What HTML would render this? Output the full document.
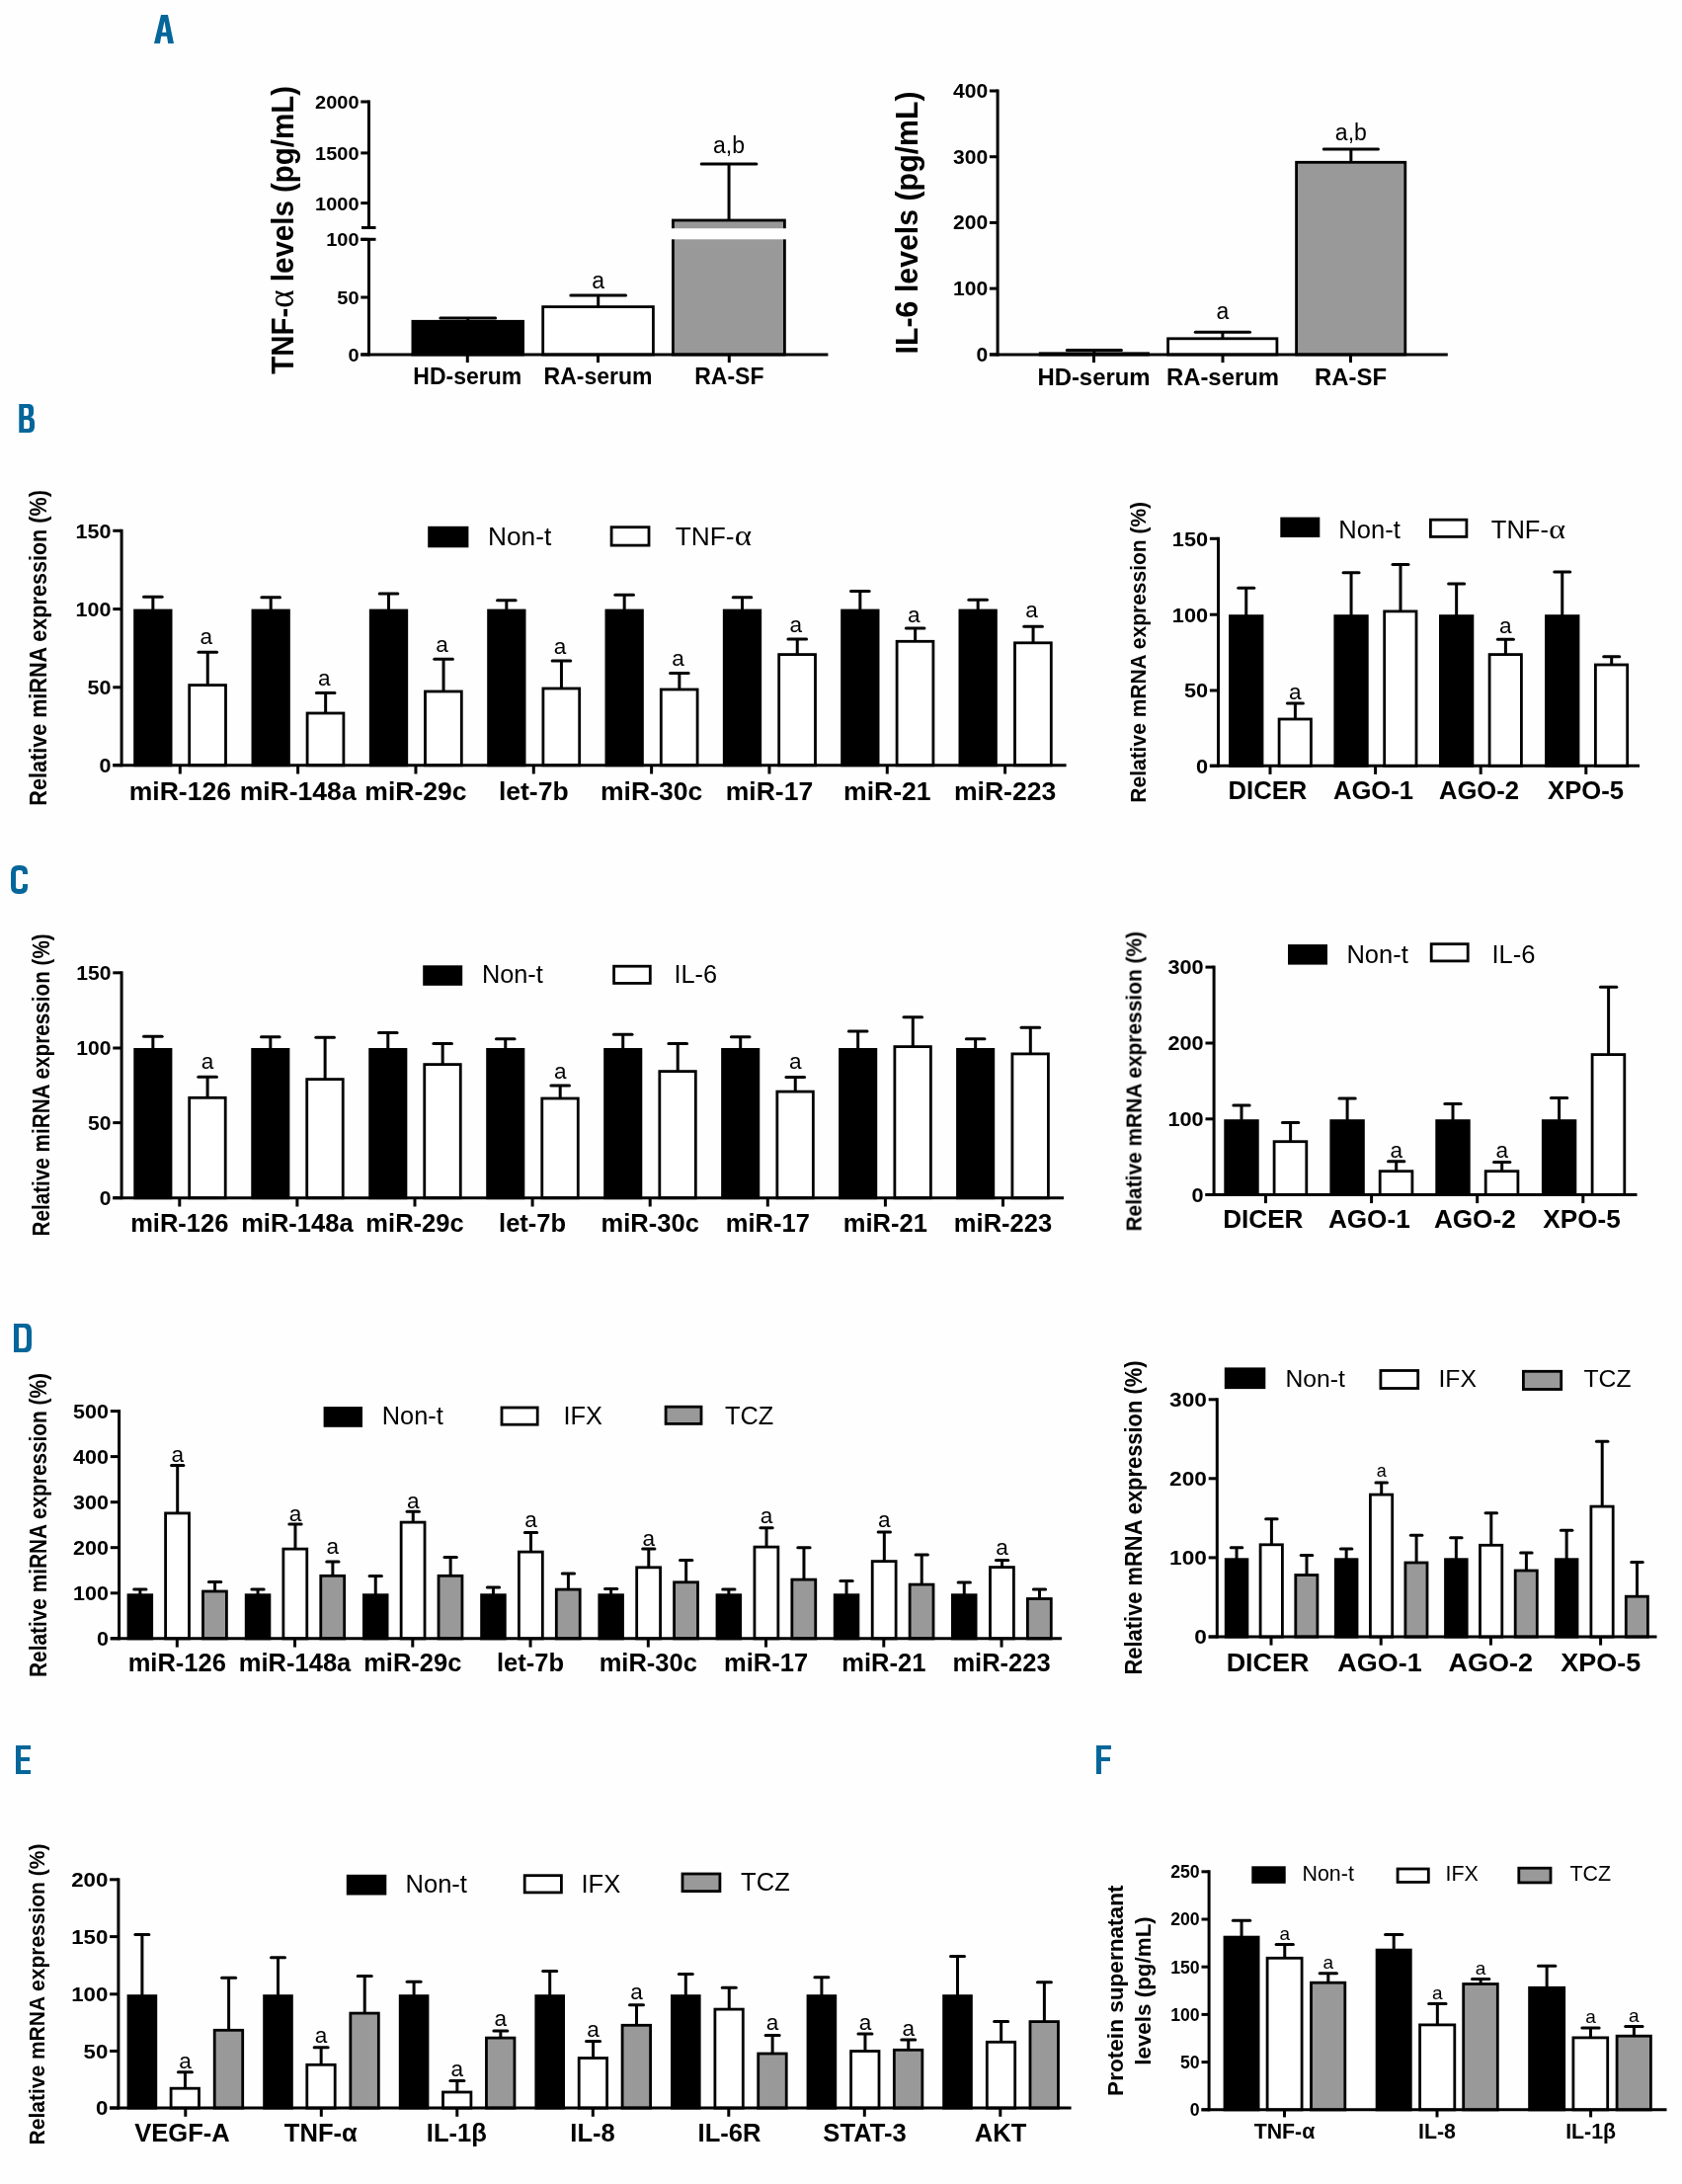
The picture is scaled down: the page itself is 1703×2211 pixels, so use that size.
<!DOCTYPE html>
<html><head><meta charset="utf-8"><title>Figure</title>
<style>
html,body{margin:0;padding:0;background:#fefefe;}
svg{display:block;font-family:"Liberation Sans",sans-serif;}
</style></head>
<body>
<svg width="1703" height="2211" viewBox="0 0 1703 2211">
<defs><filter id="soft" x="0" y="0" width="1703" height="2211" filterUnits="userSpaceOnUse" color-interpolation-filters="sRGB"><feGaussianBlur stdDeviation="0.45"/></filter></defs>
<rect width="1703" height="2211" fill="#fefefe"/>
<g filter="url(#soft)">
<g>
<line x1="473.75" y1="324.9" x2="473.75" y2="322" stroke="#000" stroke-width="3" stroke-linecap="butt"/>
<line x1="445.9" y1="322" x2="501.6" y2="322" stroke="#000" stroke-width="3" stroke-linecap="round"/>
<rect x="416.5" y="323.9" width="114.5" height="36.5" fill="#000"/>
<line x1="605.7" y1="310.2" x2="605.7" y2="299" stroke="#000" stroke-width="3" stroke-linecap="butt"/>
<line x1="577.85" y1="299" x2="633.55" y2="299" stroke="#000" stroke-width="3" stroke-linecap="round"/>
<rect x="549.7" y="310.6" width="111.7" height="48.4" fill="#fff" stroke="#000" stroke-width="2.8"/>
<text x="605.7" y="292" font-size="23" text-anchor="middle">a</text>
<line x1="738.05" y1="222.6" x2="738.05" y2="166" stroke="#000" stroke-width="3" stroke-linecap="butt"/>
<line x1="710.2" y1="166" x2="765.9" y2="166" stroke="#000" stroke-width="3" stroke-linecap="round"/>
<rect x="681.4" y="223" width="113" height="136" fill="#999999" stroke="#000" stroke-width="2.8"/>
<text x="738.05" y="155" font-size="23" text-anchor="middle">a,b</text>
<line x1="373.5" y1="101.5" x2="373.5" y2="230.5" stroke="#000" stroke-width="3" stroke-linecap="butt"/>
<line x1="373.5" y1="242.3" x2="373.5" y2="360.4" stroke="#000" stroke-width="3" stroke-linecap="butt"/>
<line x1="366" y1="230.5" x2="380.5" y2="230.5" stroke="#000" stroke-width="3" stroke-linecap="butt"/>
<line x1="365.3" y1="242.3" x2="380.5" y2="242.3" stroke="#000" stroke-width="3" stroke-linecap="butt"/>
<line x1="365.3" y1="103" x2="373.5" y2="103" stroke="#000" stroke-width="3" stroke-linecap="butt"/>
<text x="0" y="0" font-size="19.2" font-weight="bold" text-anchor="end" transform="translate(363.5,109.91) scale(1.04,1)">2000</text>
<line x1="365.3" y1="154.9" x2="373.5" y2="154.9" stroke="#000" stroke-width="3" stroke-linecap="butt"/>
<text x="0" y="0" font-size="19.2" font-weight="bold" text-anchor="end" transform="translate(363.5,161.81) scale(1.04,1)">1500</text>
<line x1="365.3" y1="205.6" x2="373.5" y2="205.6" stroke="#000" stroke-width="3" stroke-linecap="butt"/>
<text x="0" y="0" font-size="19.2" font-weight="bold" text-anchor="end" transform="translate(363.5,212.51) scale(1.04,1)">1000</text>
<line x1="365.3" y1="242.3" x2="373.5" y2="242.3" stroke="#000" stroke-width="3" stroke-linecap="butt"/>
<text x="0" y="0" font-size="19.2" font-weight="bold" text-anchor="end" transform="translate(363.5,249.21) scale(1.04,1)">100</text>
<line x1="365.3" y1="301" x2="373.5" y2="301" stroke="#000" stroke-width="3" stroke-linecap="butt"/>
<text x="0" y="0" font-size="19.2" font-weight="bold" text-anchor="end" transform="translate(363.5,307.91) scale(1.04,1)">50</text>
<line x1="365.3" y1="358.9" x2="373.5" y2="358.9" stroke="#000" stroke-width="3" stroke-linecap="butt"/>
<text x="0" y="0" font-size="19.2" font-weight="bold" text-anchor="end" transform="translate(363.5,365.81) scale(1.04,1)">0</text>
<line x1="365.3" y1="358.9" x2="838.4" y2="358.9" stroke="#000" stroke-width="3" stroke-linecap="butt"/>
<line x1="473.3" y1="358.9" x2="473.3" y2="367.1" stroke="#000" stroke-width="3" stroke-linecap="butt"/>
<line x1="605.5" y1="358.9" x2="605.5" y2="367.1" stroke="#000" stroke-width="3" stroke-linecap="butt"/>
<line x1="738.3" y1="358.9" x2="738.3" y2="367.1" stroke="#000" stroke-width="3" stroke-linecap="butt"/>
<text x="473.3" y="388.6" font-size="23" font-weight="bold" text-anchor="middle">HD-serum</text>
<text x="605.5" y="388.6" font-size="23" font-weight="bold" text-anchor="middle">RA-serum</text>
<text x="738.3" y="388.6" font-size="23" font-weight="bold" text-anchor="middle">RA-SF</text>
<text font-size="29.5" font-weight="bold" text-anchor="middle" transform="translate(297.4,232.9) rotate(-90) scale(1,1.06)">TNF-<tspan font-family="Liberation Serif" font-weight="normal" font-size="35">α</tspan> levels (pg/mL)</text>
</g>
<g>
<line x1="1107.85" y1="357.4" x2="1107.85" y2="354.6" stroke="#000" stroke-width="3" stroke-linecap="butt"/>
<line x1="1080.25" y1="354.6" x2="1135.45" y2="354.6" stroke="#000" stroke-width="3" stroke-linecap="round"/>
<rect x="1051.8" y="356.4" width="112.1" height="4" fill="#000"/>
<line x1="1237.9" y1="342.4" x2="1237.9" y2="336.2" stroke="#000" stroke-width="3" stroke-linecap="butt"/>
<line x1="1210.3" y1="336.2" x2="1265.5" y2="336.2" stroke="#000" stroke-width="3" stroke-linecap="round"/>
<rect x="1182.6" y="342.8" width="110.3" height="16.2" fill="#fff" stroke="#000" stroke-width="2.8"/>
<text x="1237.9" y="323.4" font-size="23" text-anchor="middle">a</text>
<line x1="1367.85" y1="163.9" x2="1367.85" y2="151.1" stroke="#000" stroke-width="3" stroke-linecap="butt"/>
<line x1="1340.25" y1="151.1" x2="1395.45" y2="151.1" stroke="#000" stroke-width="3" stroke-linecap="round"/>
<rect x="1312.6" y="164.3" width="110.2" height="194.7" fill="#999999" stroke="#000" stroke-width="2.8"/>
<text x="1367.85" y="142.4" font-size="23" text-anchor="middle">a,b</text>
<line x1="1010.1" y1="90.5" x2="1010.1" y2="360.4" stroke="#000" stroke-width="3" stroke-linecap="butt"/>
<line x1="1001.9" y1="92" x2="1010.1" y2="92" stroke="#000" stroke-width="3" stroke-linecap="butt"/>
<text x="0" y="0" font-size="19.5" font-weight="bold" text-anchor="end" transform="translate(1000.1,99.02) scale(1.08,1)">400</text>
<line x1="1001.9" y1="158.7" x2="1010.1" y2="158.7" stroke="#000" stroke-width="3" stroke-linecap="butt"/>
<text x="0" y="0" font-size="19.5" font-weight="bold" text-anchor="end" transform="translate(1000.1,165.72) scale(1.08,1)">300</text>
<line x1="1001.9" y1="225.4" x2="1010.1" y2="225.4" stroke="#000" stroke-width="3" stroke-linecap="butt"/>
<text x="0" y="0" font-size="19.5" font-weight="bold" text-anchor="end" transform="translate(1000.1,232.42) scale(1.08,1)">200</text>
<line x1="1001.9" y1="292.1" x2="1010.1" y2="292.1" stroke="#000" stroke-width="3" stroke-linecap="butt"/>
<text x="0" y="0" font-size="19.5" font-weight="bold" text-anchor="end" transform="translate(1000.1,299.12) scale(1.08,1)">100</text>
<line x1="1001.9" y1="358.9" x2="1010.1" y2="358.9" stroke="#000" stroke-width="3" stroke-linecap="butt"/>
<text x="0" y="0" font-size="19.5" font-weight="bold" text-anchor="end" transform="translate(1000.1,365.92) scale(1.08,1)">0</text>
<line x1="1001.9" y1="358.9" x2="1465.8" y2="358.9" stroke="#000" stroke-width="3" stroke-linecap="butt"/>
<line x1="1107.5" y1="358.9" x2="1107.5" y2="367.1" stroke="#000" stroke-width="3" stroke-linecap="butt"/>
<line x1="1238" y1="358.9" x2="1238" y2="367.1" stroke="#000" stroke-width="3" stroke-linecap="butt"/>
<line x1="1367.5" y1="358.9" x2="1367.5" y2="367.1" stroke="#000" stroke-width="3" stroke-linecap="butt"/>
<text x="1107.5" y="390.3" font-size="23.9" font-weight="bold" text-anchor="middle">HD-serum</text>
<text x="1238" y="390.3" font-size="23.9" font-weight="bold" text-anchor="middle">RA-serum</text>
<text x="1367.5" y="390.3" font-size="23.9" font-weight="bold" text-anchor="middle">RA-SF</text>
<text font-size="30.3" font-weight="bold" text-anchor="middle" transform="translate(928.7,225.4) rotate(-90) scale(1,1.04)">IL-6 levels (pg/mL)</text>
</g>
<g>
<line x1="154.85" y1="617.6" x2="154.85" y2="604.2" stroke="#000" stroke-width="3" stroke-linecap="butt"/>
<line x1="145.55" y1="604.2" x2="164.15" y2="604.2" stroke="#000" stroke-width="3" stroke-linecap="round"/>
<rect x="135.2" y="616.6" width="39.3" height="159.6" fill="#000"/>
<line x1="210.25" y1="693.2" x2="210.25" y2="660.2" stroke="#000" stroke-width="3" stroke-linecap="butt"/>
<line x1="200.95" y1="660.2" x2="219.55" y2="660.2" stroke="#000" stroke-width="3" stroke-linecap="round"/>
<rect x="191.7" y="693.6" width="36.8" height="81.2" fill="#fff" stroke="#000" stroke-width="2.8"/>
<text x="208.85" y="652.1" font-size="22.6" text-anchor="middle">a</text>
<line x1="274.18" y1="617.6" x2="274.18" y2="604.7" stroke="#000" stroke-width="3" stroke-linecap="butt"/>
<line x1="264.88" y1="604.7" x2="283.48" y2="604.7" stroke="#000" stroke-width="3" stroke-linecap="round"/>
<rect x="254.53" y="616.6" width="39.3" height="159.6" fill="#000"/>
<line x1="329.65" y1="721.6" x2="329.65" y2="701.6" stroke="#000" stroke-width="3" stroke-linecap="butt"/>
<line x1="320.35" y1="701.6" x2="338.95" y2="701.6" stroke="#000" stroke-width="3" stroke-linecap="round"/>
<rect x="311.1" y="722" width="36.8" height="52.8" fill="#fff" stroke="#000" stroke-width="2.8"/>
<text x="328.25" y="693.6" font-size="22.6" text-anchor="middle">a</text>
<line x1="393.51" y1="617.6" x2="393.51" y2="601" stroke="#000" stroke-width="3" stroke-linecap="butt"/>
<line x1="384.21" y1="601" x2="402.81" y2="601" stroke="#000" stroke-width="3" stroke-linecap="round"/>
<rect x="373.86" y="616.6" width="39.3" height="159.6" fill="#000"/>
<line x1="449.05" y1="699.6" x2="449.05" y2="667.2" stroke="#000" stroke-width="3" stroke-linecap="butt"/>
<line x1="439.75" y1="667.2" x2="458.35" y2="667.2" stroke="#000" stroke-width="3" stroke-linecap="round"/>
<rect x="430.5" y="700" width="36.8" height="74.8" fill="#fff" stroke="#000" stroke-width="2.8"/>
<text x="447.65" y="660.4" font-size="22.6" text-anchor="middle">a</text>
<line x1="512.84" y1="617.6" x2="512.84" y2="607.7" stroke="#000" stroke-width="3" stroke-linecap="butt"/>
<line x1="503.54" y1="607.7" x2="522.14" y2="607.7" stroke="#000" stroke-width="3" stroke-linecap="round"/>
<rect x="493.19" y="616.6" width="39.3" height="159.6" fill="#000"/>
<line x1="568.45" y1="696.6" x2="568.45" y2="669.1" stroke="#000" stroke-width="3" stroke-linecap="butt"/>
<line x1="559.15" y1="669.1" x2="577.75" y2="669.1" stroke="#000" stroke-width="3" stroke-linecap="round"/>
<rect x="549.9" y="697" width="36.8" height="77.8" fill="#fff" stroke="#000" stroke-width="2.8"/>
<text x="567.05" y="662.1" font-size="22.6" text-anchor="middle">a</text>
<line x1="632.17" y1="617.6" x2="632.17" y2="602.2" stroke="#000" stroke-width="3" stroke-linecap="butt"/>
<line x1="622.87" y1="602.2" x2="641.47" y2="602.2" stroke="#000" stroke-width="3" stroke-linecap="round"/>
<rect x="612.52" y="616.6" width="39.3" height="159.6" fill="#000"/>
<line x1="687.85" y1="697.6" x2="687.85" y2="681.4" stroke="#000" stroke-width="3" stroke-linecap="butt"/>
<line x1="678.55" y1="681.4" x2="697.15" y2="681.4" stroke="#000" stroke-width="3" stroke-linecap="round"/>
<rect x="669.3" y="698" width="36.8" height="76.8" fill="#fff" stroke="#000" stroke-width="2.8"/>
<text x="686.45" y="673.6" font-size="22.6" text-anchor="middle">a</text>
<line x1="751.5" y1="617.6" x2="751.5" y2="604.7" stroke="#000" stroke-width="3" stroke-linecap="butt"/>
<line x1="742.2" y1="604.7" x2="760.8" y2="604.7" stroke="#000" stroke-width="3" stroke-linecap="round"/>
<rect x="731.85" y="616.6" width="39.3" height="159.6" fill="#000"/>
<line x1="807.25" y1="662.2" x2="807.25" y2="646.9" stroke="#000" stroke-width="3" stroke-linecap="butt"/>
<line x1="797.95" y1="646.9" x2="816.55" y2="646.9" stroke="#000" stroke-width="3" stroke-linecap="round"/>
<rect x="788.7" y="662.6" width="36.8" height="112.2" fill="#fff" stroke="#000" stroke-width="2.8"/>
<text x="805.85" y="639.9" font-size="22.6" text-anchor="middle">a</text>
<line x1="870.83" y1="617.6" x2="870.83" y2="598.5" stroke="#000" stroke-width="3" stroke-linecap="butt"/>
<line x1="861.53" y1="598.5" x2="880.13" y2="598.5" stroke="#000" stroke-width="3" stroke-linecap="round"/>
<rect x="851.18" y="616.6" width="39.3" height="159.6" fill="#000"/>
<line x1="926.65" y1="648.9" x2="926.65" y2="636" stroke="#000" stroke-width="3" stroke-linecap="butt"/>
<line x1="917.35" y1="636" x2="935.95" y2="636" stroke="#000" stroke-width="3" stroke-linecap="round"/>
<rect x="908.1" y="649.3" width="36.8" height="125.5" fill="#fff" stroke="#000" stroke-width="2.8"/>
<text x="925.25" y="629.9" font-size="22.6" text-anchor="middle">a</text>
<line x1="990.16" y1="617.6" x2="990.16" y2="607.2" stroke="#000" stroke-width="3" stroke-linecap="butt"/>
<line x1="980.86" y1="607.2" x2="999.46" y2="607.2" stroke="#000" stroke-width="3" stroke-linecap="round"/>
<rect x="970.51" y="616.6" width="39.3" height="159.6" fill="#000"/>
<line x1="1046.05" y1="650.4" x2="1046.05" y2="634.2" stroke="#000" stroke-width="3" stroke-linecap="butt"/>
<line x1="1036.75" y1="634.2" x2="1055.35" y2="634.2" stroke="#000" stroke-width="3" stroke-linecap="round"/>
<rect x="1027.5" y="650.8" width="36.8" height="124" fill="#fff" stroke="#000" stroke-width="2.8"/>
<text x="1044.65" y="624.9" font-size="22.6" text-anchor="middle">a</text>
<line x1="123.1" y1="535.8" x2="123.1" y2="776.2" stroke="#000" stroke-width="3" stroke-linecap="butt"/>
<line x1="114.3" y1="537.3" x2="123.1" y2="537.3" stroke="#000" stroke-width="3" stroke-linecap="butt"/>
<text x="0" y="0" font-size="20.3" font-weight="bold" text-anchor="end" transform="translate(112.5,544.61) scale(1.06,1)">150</text>
<line x1="114.3" y1="616.6" x2="123.1" y2="616.6" stroke="#000" stroke-width="3" stroke-linecap="butt"/>
<text x="0" y="0" font-size="20.3" font-weight="bold" text-anchor="end" transform="translate(112.5,623.91) scale(1.06,1)">100</text>
<line x1="114.3" y1="695.8" x2="123.1" y2="695.8" stroke="#000" stroke-width="3" stroke-linecap="butt"/>
<text x="0" y="0" font-size="20.3" font-weight="bold" text-anchor="end" transform="translate(112.5,703.11) scale(1.06,1)">50</text>
<line x1="114.3" y1="774.7" x2="123.1" y2="774.7" stroke="#000" stroke-width="3" stroke-linecap="butt"/>
<text x="0" y="0" font-size="20.3" font-weight="bold" text-anchor="end" transform="translate(112.5,782.01) scale(1.06,1)">0</text>
<line x1="114.3" y1="774.7" x2="1079.6" y2="774.7" stroke="#000" stroke-width="3" stroke-linecap="butt"/>
<line x1="182.3" y1="774.7" x2="182.3" y2="783.5" stroke="#000" stroke-width="3" stroke-linecap="butt"/>
<line x1="301.63" y1="774.7" x2="301.63" y2="783.5" stroke="#000" stroke-width="3" stroke-linecap="butt"/>
<line x1="420.96" y1="774.7" x2="420.96" y2="783.5" stroke="#000" stroke-width="3" stroke-linecap="butt"/>
<line x1="540.29" y1="774.7" x2="540.29" y2="783.5" stroke="#000" stroke-width="3" stroke-linecap="butt"/>
<line x1="659.62" y1="774.7" x2="659.62" y2="783.5" stroke="#000" stroke-width="3" stroke-linecap="butt"/>
<line x1="778.95" y1="774.7" x2="778.95" y2="783.5" stroke="#000" stroke-width="3" stroke-linecap="butt"/>
<line x1="898.28" y1="774.7" x2="898.28" y2="783.5" stroke="#000" stroke-width="3" stroke-linecap="butt"/>
<line x1="1017.61" y1="774.7" x2="1017.61" y2="783.5" stroke="#000" stroke-width="3" stroke-linecap="butt"/>
<text x="0" y="0" font-size="25.53" font-weight="bold" text-anchor="middle" transform="translate(182.3,809.5) scale(1.04,1)">miR-126</text>
<text x="0" y="0" font-size="25.53" font-weight="bold" text-anchor="middle" transform="translate(301.63,809.5) scale(1.04,1)">miR-148a</text>
<text x="0" y="0" font-size="25.53" font-weight="bold" text-anchor="middle" transform="translate(420.96,809.5) scale(1.04,1)">miR-29c</text>
<text x="0" y="0" font-size="25.53" font-weight="bold" text-anchor="middle" transform="translate(540.29,809.5) scale(1.04,1)">let-7b</text>
<text x="0" y="0" font-size="25.53" font-weight="bold" text-anchor="middle" transform="translate(659.62,809.5) scale(1.04,1)">miR-30c</text>
<text x="0" y="0" font-size="25.53" font-weight="bold" text-anchor="middle" transform="translate(778.95,809.5) scale(1.04,1)">miR-17</text>
<text x="0" y="0" font-size="25.53" font-weight="bold" text-anchor="middle" transform="translate(898.28,809.5) scale(1.04,1)">miR-21</text>
<text x="0" y="0" font-size="25.53" font-weight="bold" text-anchor="middle" transform="translate(1017.61,809.5) scale(1.04,1)">miR-223</text>
<text font-size="21.6" font-weight="bold" text-anchor="middle" transform="translate(46.9,655.9) rotate(-90) scale(1,1.09)">Relative miRNA expression (%)</text>
<rect x="433.2" y="532.8" width="41.2" height="21.5" fill="#000"/>
<text x="494" y="551.6" font-size="26.27" text-anchor="start">Non-t</text>
<rect x="619.1" y="533.7" width="37.9" height="18.4" fill="#fff" stroke="#000" stroke-width="2.8"/>
<text x="683.7" y="551.6" font-size="26.27" text-anchor="start">TNF-</text>
<text font-family="Liberation Serif" font-size="28.37" transform="translate(743.82,551.6) scale(1.16,1)">α</text>
</g>
<g>
<line x1="1261.75" y1="623.2" x2="1261.75" y2="595.2" stroke="#000" stroke-width="3" stroke-linecap="butt"/>
<line x1="1253.75" y1="595.2" x2="1269.75" y2="595.2" stroke="#000" stroke-width="3" stroke-linecap="round"/>
<rect x="1244.1" y="622.2" width="35.3" height="154.6" fill="#000"/>
<line x1="1311.4" y1="727.6" x2="1311.4" y2="712.1" stroke="#000" stroke-width="3" stroke-linecap="butt"/>
<line x1="1303.4" y1="712.1" x2="1319.4" y2="712.1" stroke="#000" stroke-width="3" stroke-linecap="round"/>
<rect x="1295.1" y="728" width="32.3" height="47.4" fill="#fff" stroke="#000" stroke-width="2.8"/>
<text x="1311.4" y="707.8" font-size="22.6" text-anchor="middle">a</text>
<line x1="1368.05" y1="623.2" x2="1368.05" y2="579.8" stroke="#000" stroke-width="3" stroke-linecap="butt"/>
<line x1="1360.05" y1="579.8" x2="1376.05" y2="579.8" stroke="#000" stroke-width="3" stroke-linecap="round"/>
<rect x="1350.4" y="622.2" width="35.3" height="154.6" fill="#000"/>
<line x1="1418" y1="618.5" x2="1418" y2="571.6" stroke="#000" stroke-width="3" stroke-linecap="butt"/>
<line x1="1410" y1="571.6" x2="1426" y2="571.6" stroke="#000" stroke-width="3" stroke-linecap="round"/>
<rect x="1401.7" y="618.9" width="32.3" height="156.5" fill="#fff" stroke="#000" stroke-width="2.8"/>
<line x1="1474.65" y1="623.2" x2="1474.65" y2="591" stroke="#000" stroke-width="3" stroke-linecap="butt"/>
<line x1="1466.65" y1="591" x2="1482.65" y2="591" stroke="#000" stroke-width="3" stroke-linecap="round"/>
<rect x="1457" y="622.2" width="35.3" height="154.6" fill="#000"/>
<line x1="1524.4" y1="662.2" x2="1524.4" y2="647.2" stroke="#000" stroke-width="3" stroke-linecap="butt"/>
<line x1="1516.4" y1="647.2" x2="1532.4" y2="647.2" stroke="#000" stroke-width="3" stroke-linecap="round"/>
<rect x="1508.1" y="662.6" width="32.3" height="112.8" fill="#fff" stroke="#000" stroke-width="2.8"/>
<text x="1524.4" y="641.1" font-size="22.6" text-anchor="middle">a</text>
<line x1="1581.75" y1="623.2" x2="1581.75" y2="579" stroke="#000" stroke-width="3" stroke-linecap="butt"/>
<line x1="1573.75" y1="579" x2="1589.75" y2="579" stroke="#000" stroke-width="3" stroke-linecap="round"/>
<rect x="1564.1" y="622.2" width="35.3" height="154.6" fill="#000"/>
<line x1="1631.7" y1="672.6" x2="1631.7" y2="664.7" stroke="#000" stroke-width="3" stroke-linecap="butt"/>
<line x1="1623.7" y1="664.7" x2="1639.7" y2="664.7" stroke="#000" stroke-width="3" stroke-linecap="round"/>
<rect x="1615.4" y="673" width="32.3" height="102.4" fill="#fff" stroke="#000" stroke-width="2.8"/>
<line x1="1233.5" y1="543.8" x2="1233.5" y2="776.8" stroke="#000" stroke-width="3" stroke-linecap="butt"/>
<line x1="1224.9" y1="545.3" x2="1233.5" y2="545.3" stroke="#000" stroke-width="3" stroke-linecap="butt"/>
<text x="0" y="0" font-size="20.3" font-weight="bold" text-anchor="end" transform="translate(1223.1,552.61) scale(1.07,1)">150</text>
<line x1="1224.9" y1="622.2" x2="1233.5" y2="622.2" stroke="#000" stroke-width="3" stroke-linecap="butt"/>
<text x="0" y="0" font-size="20.3" font-weight="bold" text-anchor="end" transform="translate(1223.1,629.51) scale(1.07,1)">100</text>
<line x1="1224.9" y1="699" x2="1233.5" y2="699" stroke="#000" stroke-width="3" stroke-linecap="butt"/>
<text x="0" y="0" font-size="20.3" font-weight="bold" text-anchor="end" transform="translate(1223.1,706.31) scale(1.07,1)">50</text>
<line x1="1224.9" y1="775.3" x2="1233.5" y2="775.3" stroke="#000" stroke-width="3" stroke-linecap="butt"/>
<text x="0" y="0" font-size="20.3" font-weight="bold" text-anchor="end" transform="translate(1223.1,782.61) scale(1.07,1)">0</text>
<line x1="1224.9" y1="775.3" x2="1660" y2="775.3" stroke="#000" stroke-width="3" stroke-linecap="butt"/>
<line x1="1286" y1="775.3" x2="1286" y2="783.9" stroke="#000" stroke-width="3" stroke-linecap="butt"/>
<line x1="1392.6" y1="775.3" x2="1392.6" y2="783.9" stroke="#000" stroke-width="3" stroke-linecap="butt"/>
<line x1="1499.2" y1="775.3" x2="1499.2" y2="783.9" stroke="#000" stroke-width="3" stroke-linecap="butt"/>
<line x1="1605.8" y1="775.3" x2="1605.8" y2="783.9" stroke="#000" stroke-width="3" stroke-linecap="butt"/>
<text x="0" y="0" font-size="24.9" font-weight="bold" text-anchor="middle" transform="translate(1283.5,809.3) scale(1.03,1)">DICER</text>
<text x="0" y="0" font-size="24.9" font-weight="bold" text-anchor="middle" transform="translate(1390.5,809.3) scale(1.03,1)">AGO-1</text>
<text x="0" y="0" font-size="24.9" font-weight="bold" text-anchor="middle" transform="translate(1497.5,809.3) scale(1.03,1)">AGO-2</text>
<text x="0" y="0" font-size="24.9" font-weight="bold" text-anchor="middle" transform="translate(1605.5,809.3) scale(1.03,1)">XPO-5</text>
<text font-size="21" font-weight="bold" text-anchor="middle" transform="translate(1160,660.3) rotate(-90) scale(1,1.09)">Relative mRNA expression (%)</text>
<rect x="1296.3" y="523.6" width="40" height="20.4" fill="#000"/>
<text x="1355.3" y="545.4" font-size="25.54" text-anchor="start">Non-t</text>
<rect x="1448.4" y="526.2" width="36.5" height="17.2" fill="#fff" stroke="#000" stroke-width="2.8"/>
<text x="1509.8" y="545.4" font-size="25.54" text-anchor="start">TNF-</text>
<text font-family="Liberation Serif" font-size="27.58" transform="translate(1568.25,545.4) scale(1.16,1)">α</text>
</g>
<g>
<line x1="154.85" y1="1062" x2="154.85" y2="1049.2" stroke="#000" stroke-width="3" stroke-linecap="butt"/>
<line x1="145.55" y1="1049.2" x2="164.15" y2="1049.2" stroke="#000" stroke-width="3" stroke-linecap="round"/>
<rect x="135.3" y="1061" width="39.1" height="153.2" fill="#000"/>
<line x1="210.1" y1="1110.9" x2="210.1" y2="1090.2" stroke="#000" stroke-width="3" stroke-linecap="butt"/>
<line x1="200.8" y1="1090.2" x2="219.4" y2="1090.2" stroke="#000" stroke-width="3" stroke-linecap="round"/>
<rect x="191.7" y="1111.3" width="36.5" height="101.5" fill="#fff" stroke="#000" stroke-width="2.8"/>
<text x="210.1" y="1081.6" font-size="22.6" text-anchor="middle">a</text>
<line x1="273.82" y1="1062" x2="273.82" y2="1049.7" stroke="#000" stroke-width="3" stroke-linecap="butt"/>
<line x1="264.52" y1="1049.7" x2="283.12" y2="1049.7" stroke="#000" stroke-width="3" stroke-linecap="round"/>
<rect x="254.27" y="1061" width="39.1" height="153.2" fill="#000"/>
<line x1="329.13" y1="1092.2" x2="329.13" y2="1050.2" stroke="#000" stroke-width="3" stroke-linecap="butt"/>
<line x1="319.83" y1="1050.2" x2="338.43" y2="1050.2" stroke="#000" stroke-width="3" stroke-linecap="round"/>
<rect x="310.73" y="1092.6" width="36.5" height="120.2" fill="#fff" stroke="#000" stroke-width="2.8"/>
<line x1="392.79" y1="1062" x2="392.79" y2="1045.5" stroke="#000" stroke-width="3" stroke-linecap="butt"/>
<line x1="383.49" y1="1045.5" x2="402.09" y2="1045.5" stroke="#000" stroke-width="3" stroke-linecap="round"/>
<rect x="373.24" y="1061" width="39.1" height="153.2" fill="#000"/>
<line x1="448.16" y1="1077.2" x2="448.16" y2="1056.5" stroke="#000" stroke-width="3" stroke-linecap="butt"/>
<line x1="438.86" y1="1056.5" x2="457.46" y2="1056.5" stroke="#000" stroke-width="3" stroke-linecap="round"/>
<rect x="429.76" y="1077.6" width="36.5" height="135.2" fill="#fff" stroke="#000" stroke-width="2.8"/>
<line x1="511.76" y1="1062" x2="511.76" y2="1051.7" stroke="#000" stroke-width="3" stroke-linecap="butt"/>
<line x1="502.46" y1="1051.7" x2="521.06" y2="1051.7" stroke="#000" stroke-width="3" stroke-linecap="round"/>
<rect x="492.21" y="1061" width="39.1" height="153.2" fill="#000"/>
<line x1="567.19" y1="1111.6" x2="567.19" y2="1098.9" stroke="#000" stroke-width="3" stroke-linecap="butt"/>
<line x1="557.89" y1="1098.9" x2="576.49" y2="1098.9" stroke="#000" stroke-width="3" stroke-linecap="round"/>
<rect x="548.79" y="1112" width="36.5" height="100.8" fill="#fff" stroke="#000" stroke-width="2.8"/>
<text x="567.19" y="1091.6" font-size="22.6" text-anchor="middle">a</text>
<line x1="630.73" y1="1062" x2="630.73" y2="1047.2" stroke="#000" stroke-width="3" stroke-linecap="butt"/>
<line x1="621.43" y1="1047.2" x2="640.03" y2="1047.2" stroke="#000" stroke-width="3" stroke-linecap="round"/>
<rect x="611.18" y="1061" width="39.1" height="153.2" fill="#000"/>
<line x1="686.22" y1="1084.2" x2="686.22" y2="1056.5" stroke="#000" stroke-width="3" stroke-linecap="butt"/>
<line x1="676.92" y1="1056.5" x2="695.52" y2="1056.5" stroke="#000" stroke-width="3" stroke-linecap="round"/>
<rect x="667.82" y="1084.6" width="36.5" height="128.2" fill="#fff" stroke="#000" stroke-width="2.8"/>
<line x1="749.7" y1="1062" x2="749.7" y2="1049.7" stroke="#000" stroke-width="3" stroke-linecap="butt"/>
<line x1="740.4" y1="1049.7" x2="759" y2="1049.7" stroke="#000" stroke-width="3" stroke-linecap="round"/>
<rect x="730.15" y="1061" width="39.1" height="153.2" fill="#000"/>
<line x1="805.25" y1="1104.7" x2="805.25" y2="1090.4" stroke="#000" stroke-width="3" stroke-linecap="butt"/>
<line x1="795.95" y1="1090.4" x2="814.55" y2="1090.4" stroke="#000" stroke-width="3" stroke-linecap="round"/>
<rect x="786.85" y="1105.1" width="36.5" height="107.7" fill="#fff" stroke="#000" stroke-width="2.8"/>
<text x="805.25" y="1081.6" font-size="22.6" text-anchor="middle">a</text>
<line x1="868.67" y1="1062" x2="868.67" y2="1044" stroke="#000" stroke-width="3" stroke-linecap="butt"/>
<line x1="859.37" y1="1044" x2="877.97" y2="1044" stroke="#000" stroke-width="3" stroke-linecap="round"/>
<rect x="849.12" y="1061" width="39.1" height="153.2" fill="#000"/>
<line x1="924.28" y1="1059.2" x2="924.28" y2="1029.8" stroke="#000" stroke-width="3" stroke-linecap="butt"/>
<line x1="914.98" y1="1029.8" x2="933.58" y2="1029.8" stroke="#000" stroke-width="3" stroke-linecap="round"/>
<rect x="905.88" y="1059.6" width="36.5" height="153.2" fill="#fff" stroke="#000" stroke-width="2.8"/>
<line x1="987.64" y1="1062" x2="987.64" y2="1051.7" stroke="#000" stroke-width="3" stroke-linecap="butt"/>
<line x1="978.34" y1="1051.7" x2="996.94" y2="1051.7" stroke="#000" stroke-width="3" stroke-linecap="round"/>
<rect x="968.09" y="1061" width="39.1" height="153.2" fill="#000"/>
<line x1="1043.31" y1="1066.5" x2="1043.31" y2="1040.2" stroke="#000" stroke-width="3" stroke-linecap="butt"/>
<line x1="1034.01" y1="1040.2" x2="1052.61" y2="1040.2" stroke="#000" stroke-width="3" stroke-linecap="round"/>
<rect x="1024.91" y="1066.9" width="36.5" height="145.9" fill="#fff" stroke="#000" stroke-width="2.8"/>
<line x1="123.1" y1="983.3" x2="123.1" y2="1214.2" stroke="#000" stroke-width="3" stroke-linecap="butt"/>
<line x1="114.3" y1="984.8" x2="123.1" y2="984.8" stroke="#000" stroke-width="3" stroke-linecap="butt"/>
<text x="0" y="0" font-size="20.3" font-weight="bold" text-anchor="end" transform="translate(112.5,992.11) scale(1.04,1)">150</text>
<line x1="114.3" y1="1061" x2="123.1" y2="1061" stroke="#000" stroke-width="3" stroke-linecap="butt"/>
<text x="0" y="0" font-size="20.3" font-weight="bold" text-anchor="end" transform="translate(112.5,1068.31) scale(1.04,1)">100</text>
<line x1="114.3" y1="1136.6" x2="123.1" y2="1136.6" stroke="#000" stroke-width="3" stroke-linecap="butt"/>
<text x="0" y="0" font-size="20.3" font-weight="bold" text-anchor="end" transform="translate(112.5,1143.91) scale(1.04,1)">50</text>
<line x1="114.3" y1="1212.7" x2="123.1" y2="1212.7" stroke="#000" stroke-width="3" stroke-linecap="butt"/>
<text x="0" y="0" font-size="20.3" font-weight="bold" text-anchor="end" transform="translate(112.5,1220.01) scale(1.04,1)">0</text>
<line x1="114.3" y1="1212.7" x2="1077" y2="1212.7" stroke="#000" stroke-width="3" stroke-linecap="butt"/>
<line x1="181.8" y1="1212.7" x2="181.8" y2="1221.5" stroke="#000" stroke-width="3" stroke-linecap="butt"/>
<line x1="300.9" y1="1212.7" x2="300.9" y2="1221.5" stroke="#000" stroke-width="3" stroke-linecap="butt"/>
<line x1="420" y1="1212.7" x2="420" y2="1221.5" stroke="#000" stroke-width="3" stroke-linecap="butt"/>
<line x1="539.1" y1="1212.7" x2="539.1" y2="1221.5" stroke="#000" stroke-width="3" stroke-linecap="butt"/>
<line x1="658.2" y1="1212.7" x2="658.2" y2="1221.5" stroke="#000" stroke-width="3" stroke-linecap="butt"/>
<line x1="777.3" y1="1212.7" x2="777.3" y2="1221.5" stroke="#000" stroke-width="3" stroke-linecap="butt"/>
<line x1="896.4" y1="1212.7" x2="896.4" y2="1221.5" stroke="#000" stroke-width="3" stroke-linecap="butt"/>
<line x1="1015.5" y1="1212.7" x2="1015.5" y2="1221.5" stroke="#000" stroke-width="3" stroke-linecap="butt"/>
<text x="181.8" y="1246.5" font-size="25.53" font-weight="bold" text-anchor="middle">miR-126</text>
<text x="300.9" y="1246.5" font-size="25.53" font-weight="bold" text-anchor="middle">miR-148a</text>
<text x="420" y="1246.5" font-size="25.53" font-weight="bold" text-anchor="middle">miR-29c</text>
<text x="539.1" y="1246.5" font-size="25.53" font-weight="bold" text-anchor="middle">let-7b</text>
<text x="658.2" y="1246.5" font-size="25.53" font-weight="bold" text-anchor="middle">miR-30c</text>
<text x="777.3" y="1246.5" font-size="25.53" font-weight="bold" text-anchor="middle">miR-17</text>
<text x="896.4" y="1246.5" font-size="25.53" font-weight="bold" text-anchor="middle">miR-21</text>
<text x="1015.5" y="1246.5" font-size="25.53" font-weight="bold" text-anchor="middle">miR-223</text>
<text font-size="20.7" font-weight="bold" text-anchor="middle" transform="translate(49.9,1098.4) rotate(-90) scale(1,1.12)">Relative miRNA expression (%)</text>
<rect x="428.2" y="977.3" width="40" height="20.5" fill="#000"/>
<text x="487.9" y="995.4" font-size="25.34" text-anchor="start">Non-t</text>
<rect x="621.6" y="978.2" width="36.7" height="17.2" fill="#fff" stroke="#000" stroke-width="2.8"/>
<text x="682.5" y="995.4" font-size="25.34" text-anchor="start">IL-6</text>
</g>
<g>
<line x1="1257" y1="1134.2" x2="1257" y2="1119.1" stroke="#000" stroke-width="3" stroke-linecap="butt"/>
<line x1="1248.85" y1="1119.1" x2="1265.15" y2="1119.1" stroke="#000" stroke-width="3" stroke-linecap="round"/>
<rect x="1239.3" y="1133.2" width="35.4" height="77.8" fill="#000"/>
<line x1="1306.6" y1="1155.3" x2="1306.6" y2="1136.4" stroke="#000" stroke-width="3" stroke-linecap="butt"/>
<line x1="1298.45" y1="1136.4" x2="1314.75" y2="1136.4" stroke="#000" stroke-width="3" stroke-linecap="round"/>
<rect x="1290.1" y="1155.7" width="32.7" height="53.9" fill="#fff" stroke="#000" stroke-width="2.8"/>
<line x1="1364.1" y1="1134.2" x2="1364.1" y2="1112.1" stroke="#000" stroke-width="3" stroke-linecap="butt"/>
<line x1="1355.95" y1="1112.1" x2="1372.25" y2="1112.1" stroke="#000" stroke-width="3" stroke-linecap="round"/>
<rect x="1346.4" y="1133.2" width="35.4" height="77.8" fill="#000"/>
<line x1="1413.7" y1="1185.3" x2="1413.7" y2="1175.8" stroke="#000" stroke-width="3" stroke-linecap="butt"/>
<line x1="1405.55" y1="1175.8" x2="1421.85" y2="1175.8" stroke="#000" stroke-width="3" stroke-linecap="round"/>
<rect x="1397.2" y="1185.7" width="32.7" height="23.9" fill="#fff" stroke="#000" stroke-width="2.8"/>
<text x="1413.7" y="1171.5" font-size="22.6" text-anchor="middle">a</text>
<line x1="1471" y1="1134.2" x2="1471" y2="1117.6" stroke="#000" stroke-width="3" stroke-linecap="butt"/>
<line x1="1462.85" y1="1117.6" x2="1479.15" y2="1117.6" stroke="#000" stroke-width="3" stroke-linecap="round"/>
<rect x="1453.3" y="1133.2" width="35.4" height="77.8" fill="#000"/>
<line x1="1520.7" y1="1185.3" x2="1520.7" y2="1176.6" stroke="#000" stroke-width="3" stroke-linecap="butt"/>
<line x1="1512.55" y1="1176.6" x2="1528.85" y2="1176.6" stroke="#000" stroke-width="3" stroke-linecap="round"/>
<rect x="1504.2" y="1185.7" width="32.7" height="23.9" fill="#fff" stroke="#000" stroke-width="2.8"/>
<text x="1520.7" y="1171.5" font-size="22.6" text-anchor="middle">a</text>
<line x1="1578.6" y1="1134.2" x2="1578.6" y2="1111.4" stroke="#000" stroke-width="3" stroke-linecap="butt"/>
<line x1="1570.45" y1="1111.4" x2="1586.75" y2="1111.4" stroke="#000" stroke-width="3" stroke-linecap="round"/>
<rect x="1560.9" y="1133.2" width="35.4" height="77.8" fill="#000"/>
<line x1="1628.6" y1="1067.2" x2="1628.6" y2="999.3" stroke="#000" stroke-width="3" stroke-linecap="butt"/>
<line x1="1620.45" y1="999.3" x2="1636.75" y2="999.3" stroke="#000" stroke-width="3" stroke-linecap="round"/>
<rect x="1612.1" y="1067.6" width="32.7" height="142" fill="#fff" stroke="#000" stroke-width="2.8"/>
<line x1="1229.1" y1="977.6" x2="1229.1" y2="1211" stroke="#000" stroke-width="3" stroke-linecap="butt"/>
<line x1="1220.5" y1="979.1" x2="1229.1" y2="979.1" stroke="#000" stroke-width="3" stroke-linecap="butt"/>
<text x="0" y="0" font-size="20.3" font-weight="bold" text-anchor="end" transform="translate(1218.7,986.41) scale(1.07,1)">300</text>
<line x1="1220.5" y1="1056" x2="1229.1" y2="1056" stroke="#000" stroke-width="3" stroke-linecap="butt"/>
<text x="0" y="0" font-size="20.3" font-weight="bold" text-anchor="end" transform="translate(1218.7,1063.31) scale(1.07,1)">200</text>
<line x1="1220.5" y1="1132.8" x2="1229.1" y2="1132.8" stroke="#000" stroke-width="3" stroke-linecap="butt"/>
<text x="0" y="0" font-size="20.3" font-weight="bold" text-anchor="end" transform="translate(1218.7,1140.11) scale(1.07,1)">100</text>
<line x1="1220.5" y1="1209.5" x2="1229.1" y2="1209.5" stroke="#000" stroke-width="3" stroke-linecap="butt"/>
<text x="0" y="0" font-size="20.3" font-weight="bold" text-anchor="end" transform="translate(1218.7,1216.81) scale(1.07,1)">0</text>
<line x1="1220.5" y1="1209.5" x2="1657.5" y2="1209.5" stroke="#000" stroke-width="3" stroke-linecap="butt"/>
<line x1="1281.5" y1="1209.5" x2="1281.5" y2="1218.1" stroke="#000" stroke-width="3" stroke-linecap="butt"/>
<line x1="1388.6" y1="1209.5" x2="1388.6" y2="1218.1" stroke="#000" stroke-width="3" stroke-linecap="butt"/>
<line x1="1495.7" y1="1209.5" x2="1495.7" y2="1218.1" stroke="#000" stroke-width="3" stroke-linecap="butt"/>
<line x1="1602.8" y1="1209.5" x2="1602.8" y2="1218.1" stroke="#000" stroke-width="3" stroke-linecap="butt"/>
<text x="0" y="0" font-size="24.9" font-weight="bold" text-anchor="middle" transform="translate(1278.8,1243.2) scale(1.05,1)">DICER</text>
<text x="0" y="0" font-size="24.9" font-weight="bold" text-anchor="middle" transform="translate(1386.3,1243.2) scale(1.05,1)">AGO-1</text>
<text x="0" y="0" font-size="24.9" font-weight="bold" text-anchor="middle" transform="translate(1493.3,1243.2) scale(1.05,1)">AGO-2</text>
<text x="0" y="0" font-size="24.9" font-weight="bold" text-anchor="middle" transform="translate(1601.5,1243.2) scale(1.05,1)">XPO-5</text>
<text font-size="20.9" font-weight="bold" text-anchor="middle" transform="translate(1155.4,1094.7) rotate(-90) scale(1,1.09)">Relative mRNA expression (%)</text>
<rect x="1304" y="956.1" width="40" height="20.5" fill="#000"/>
<text x="1363.4" y="975.4" font-size="25.54" text-anchor="start">Non-t</text>
<rect x="1449.2" y="955.7" width="37" height="17.2" fill="#fff" stroke="#000" stroke-width="2.8"/>
<text x="1510.5" y="975.4" font-size="25.54" text-anchor="start">IL-6</text>
</g>
<g>
<line x1="141.85" y1="1614.3" x2="141.85" y2="1608.9" stroke="#000" stroke-width="3" stroke-linecap="butt"/>
<line x1="135.7" y1="1608.9" x2="148" y2="1608.9" stroke="#000" stroke-width="3" stroke-linecap="round"/>
<rect x="128.6" y="1613.3" width="26.5" height="47" fill="#000"/>
<line x1="179.7" y1="1531.5" x2="179.7" y2="1483.5" stroke="#000" stroke-width="3" stroke-linecap="butt"/>
<line x1="173.55" y1="1483.5" x2="185.85" y2="1483.5" stroke="#000" stroke-width="3" stroke-linecap="round"/>
<rect x="167.6" y="1531.9" width="23.9" height="127" fill="#fff" stroke="#000" stroke-width="2.8"/>
<text x="179.7" y="1480" font-size="22.6" text-anchor="middle">a</text>
<line x1="217.6" y1="1610.6" x2="217.6" y2="1601.4" stroke="#000" stroke-width="3" stroke-linecap="butt"/>
<line x1="211.45" y1="1601.4" x2="223.75" y2="1601.4" stroke="#000" stroke-width="3" stroke-linecap="round"/>
<rect x="205.5" y="1611" width="23.9" height="47.9" fill="#999999" stroke="#000" stroke-width="2.8"/>
<line x1="261.05" y1="1614.3" x2="261.05" y2="1608.9" stroke="#000" stroke-width="3" stroke-linecap="butt"/>
<line x1="254.9" y1="1608.9" x2="267.2" y2="1608.9" stroke="#000" stroke-width="3" stroke-linecap="round"/>
<rect x="247.8" y="1613.3" width="26.5" height="47" fill="#000"/>
<line x1="298.97" y1="1567.7" x2="298.97" y2="1542.9" stroke="#000" stroke-width="3" stroke-linecap="butt"/>
<line x1="292.82" y1="1542.9" x2="305.12" y2="1542.9" stroke="#000" stroke-width="3" stroke-linecap="round"/>
<rect x="286.87" y="1568.1" width="23.9" height="90.8" fill="#fff" stroke="#000" stroke-width="2.8"/>
<text x="298.97" y="1539.9" font-size="22.6" text-anchor="middle">a</text>
<line x1="336.87" y1="1594.9" x2="336.87" y2="1580.9" stroke="#000" stroke-width="3" stroke-linecap="butt"/>
<line x1="330.72" y1="1580.9" x2="343.02" y2="1580.9" stroke="#000" stroke-width="3" stroke-linecap="round"/>
<rect x="324.77" y="1595.3" width="23.9" height="63.6" fill="#999999" stroke="#000" stroke-width="2.8"/>
<text x="336.87" y="1573.4" font-size="22.6" text-anchor="middle">a</text>
<line x1="380.25" y1="1614.3" x2="380.25" y2="1595.4" stroke="#000" stroke-width="3" stroke-linecap="butt"/>
<line x1="374.1" y1="1595.4" x2="386.4" y2="1595.4" stroke="#000" stroke-width="3" stroke-linecap="round"/>
<rect x="367" y="1613.3" width="26.5" height="47" fill="#000"/>
<line x1="418.24" y1="1540.7" x2="418.24" y2="1530.3" stroke="#000" stroke-width="3" stroke-linecap="butt"/>
<line x1="412.09" y1="1530.3" x2="424.39" y2="1530.3" stroke="#000" stroke-width="3" stroke-linecap="round"/>
<rect x="406.14" y="1541.1" width="23.9" height="117.8" fill="#fff" stroke="#000" stroke-width="2.8"/>
<text x="418.24" y="1527" font-size="22.6" text-anchor="middle">a</text>
<line x1="456.14" y1="1594.9" x2="456.14" y2="1576.6" stroke="#000" stroke-width="3" stroke-linecap="butt"/>
<line x1="449.99" y1="1576.6" x2="462.29" y2="1576.6" stroke="#000" stroke-width="3" stroke-linecap="round"/>
<rect x="444.04" y="1595.3" width="23.9" height="63.6" fill="#999999" stroke="#000" stroke-width="2.8"/>
<line x1="499.45" y1="1614.3" x2="499.45" y2="1607.1" stroke="#000" stroke-width="3" stroke-linecap="butt"/>
<line x1="493.3" y1="1607.1" x2="505.6" y2="1607.1" stroke="#000" stroke-width="3" stroke-linecap="round"/>
<rect x="486.2" y="1613.3" width="26.5" height="47" fill="#000"/>
<line x1="537.51" y1="1570.7" x2="537.51" y2="1551.4" stroke="#000" stroke-width="3" stroke-linecap="butt"/>
<line x1="531.36" y1="1551.4" x2="543.66" y2="1551.4" stroke="#000" stroke-width="3" stroke-linecap="round"/>
<rect x="525.41" y="1571.1" width="23.9" height="87.8" fill="#fff" stroke="#000" stroke-width="2.8"/>
<text x="537.51" y="1545.7" font-size="22.6" text-anchor="middle">a</text>
<line x1="575.41" y1="1608.7" x2="575.41" y2="1592.9" stroke="#000" stroke-width="3" stroke-linecap="butt"/>
<line x1="569.26" y1="1592.9" x2="581.56" y2="1592.9" stroke="#000" stroke-width="3" stroke-linecap="round"/>
<rect x="563.31" y="1609.1" width="23.9" height="49.8" fill="#999999" stroke="#000" stroke-width="2.8"/>
<line x1="618.65" y1="1614.3" x2="618.65" y2="1608.4" stroke="#000" stroke-width="3" stroke-linecap="butt"/>
<line x1="612.5" y1="1608.4" x2="624.8" y2="1608.4" stroke="#000" stroke-width="3" stroke-linecap="round"/>
<rect x="605.4" y="1613.3" width="26.5" height="47" fill="#000"/>
<line x1="656.78" y1="1586.4" x2="656.78" y2="1567.9" stroke="#000" stroke-width="3" stroke-linecap="butt"/>
<line x1="650.63" y1="1567.9" x2="662.93" y2="1567.9" stroke="#000" stroke-width="3" stroke-linecap="round"/>
<rect x="644.68" y="1586.8" width="23.9" height="72.1" fill="#fff" stroke="#000" stroke-width="2.8"/>
<text x="656.78" y="1564.9" font-size="22.6" text-anchor="middle">a</text>
<line x1="694.68" y1="1601.4" x2="694.68" y2="1579.6" stroke="#000" stroke-width="3" stroke-linecap="butt"/>
<line x1="688.53" y1="1579.6" x2="700.83" y2="1579.6" stroke="#000" stroke-width="3" stroke-linecap="round"/>
<rect x="682.58" y="1601.8" width="23.9" height="57.1" fill="#999999" stroke="#000" stroke-width="2.8"/>
<line x1="737.85" y1="1614.3" x2="737.85" y2="1608.9" stroke="#000" stroke-width="3" stroke-linecap="butt"/>
<line x1="731.7" y1="1608.9" x2="744" y2="1608.9" stroke="#000" stroke-width="3" stroke-linecap="round"/>
<rect x="724.6" y="1613.3" width="26.5" height="47" fill="#000"/>
<line x1="776.05" y1="1565.7" x2="776.05" y2="1546.7" stroke="#000" stroke-width="3" stroke-linecap="butt"/>
<line x1="769.9" y1="1546.7" x2="782.2" y2="1546.7" stroke="#000" stroke-width="3" stroke-linecap="round"/>
<rect x="763.95" y="1566.1" width="23.9" height="92.8" fill="#fff" stroke="#000" stroke-width="2.8"/>
<text x="776.05" y="1541.6" font-size="22.6" text-anchor="middle">a</text>
<line x1="813.95" y1="1598.7" x2="813.95" y2="1566.7" stroke="#000" stroke-width="3" stroke-linecap="butt"/>
<line x1="807.8" y1="1566.7" x2="820.1" y2="1566.7" stroke="#000" stroke-width="3" stroke-linecap="round"/>
<rect x="801.85" y="1599.1" width="23.9" height="59.8" fill="#999999" stroke="#000" stroke-width="2.8"/>
<line x1="857.05" y1="1614.3" x2="857.05" y2="1600.4" stroke="#000" stroke-width="3" stroke-linecap="butt"/>
<line x1="850.9" y1="1600.4" x2="863.2" y2="1600.4" stroke="#000" stroke-width="3" stroke-linecap="round"/>
<rect x="843.8" y="1613.3" width="26.5" height="47" fill="#000"/>
<line x1="895.32" y1="1580.2" x2="895.32" y2="1550.9" stroke="#000" stroke-width="3" stroke-linecap="butt"/>
<line x1="889.17" y1="1550.9" x2="901.47" y2="1550.9" stroke="#000" stroke-width="3" stroke-linecap="round"/>
<rect x="883.22" y="1580.6" width="23.9" height="78.3" fill="#fff" stroke="#000" stroke-width="2.8"/>
<text x="895.32" y="1545.7" font-size="22.6" text-anchor="middle">a</text>
<line x1="933.22" y1="1603.7" x2="933.22" y2="1574.1" stroke="#000" stroke-width="3" stroke-linecap="butt"/>
<line x1="927.07" y1="1574.1" x2="939.37" y2="1574.1" stroke="#000" stroke-width="3" stroke-linecap="round"/>
<rect x="921.12" y="1604.1" width="23.9" height="54.8" fill="#999999" stroke="#000" stroke-width="2.8"/>
<line x1="976.25" y1="1614.3" x2="976.25" y2="1602.1" stroke="#000" stroke-width="3" stroke-linecap="butt"/>
<line x1="970.1" y1="1602.1" x2="982.4" y2="1602.1" stroke="#000" stroke-width="3" stroke-linecap="round"/>
<rect x="963" y="1613.3" width="26.5" height="47" fill="#000"/>
<line x1="1014.59" y1="1586.2" x2="1014.59" y2="1579.6" stroke="#000" stroke-width="3" stroke-linecap="butt"/>
<line x1="1008.44" y1="1579.6" x2="1020.74" y2="1579.6" stroke="#000" stroke-width="3" stroke-linecap="round"/>
<rect x="1002.49" y="1586.6" width="23.9" height="72.3" fill="#fff" stroke="#000" stroke-width="2.8"/>
<text x="1014.59" y="1574.4" font-size="22.6" text-anchor="middle">a</text>
<line x1="1052.49" y1="1618.1" x2="1052.49" y2="1609.1" stroke="#000" stroke-width="3" stroke-linecap="butt"/>
<line x1="1046.34" y1="1609.1" x2="1058.64" y2="1609.1" stroke="#000" stroke-width="3" stroke-linecap="round"/>
<rect x="1040.39" y="1618.5" width="23.9" height="40.4" fill="#999999" stroke="#000" stroke-width="2.8"/>
<line x1="120.6" y1="1427.1" x2="120.6" y2="1660.3" stroke="#000" stroke-width="3" stroke-linecap="butt"/>
<line x1="111.8" y1="1428.6" x2="120.6" y2="1428.6" stroke="#000" stroke-width="3" stroke-linecap="butt"/>
<text x="0" y="0" font-size="20.3" font-weight="bold" text-anchor="end" transform="translate(110,1435.91) scale(1.06,1)">500</text>
<line x1="111.8" y1="1474.6" x2="120.6" y2="1474.6" stroke="#000" stroke-width="3" stroke-linecap="butt"/>
<text x="0" y="0" font-size="20.3" font-weight="bold" text-anchor="end" transform="translate(110,1481.91) scale(1.06,1)">400</text>
<line x1="111.8" y1="1520.7" x2="120.6" y2="1520.7" stroke="#000" stroke-width="3" stroke-linecap="butt"/>
<text x="0" y="0" font-size="20.3" font-weight="bold" text-anchor="end" transform="translate(110,1528.01) scale(1.06,1)">300</text>
<line x1="111.8" y1="1566.7" x2="120.6" y2="1566.7" stroke="#000" stroke-width="3" stroke-linecap="butt"/>
<text x="0" y="0" font-size="20.3" font-weight="bold" text-anchor="end" transform="translate(110,1574.01) scale(1.06,1)">200</text>
<line x1="111.8" y1="1612.8" x2="120.6" y2="1612.8" stroke="#000" stroke-width="3" stroke-linecap="butt"/>
<text x="0" y="0" font-size="20.3" font-weight="bold" text-anchor="end" transform="translate(110,1620.11) scale(1.06,1)">100</text>
<line x1="111.8" y1="1658.8" x2="120.6" y2="1658.8" stroke="#000" stroke-width="3" stroke-linecap="butt"/>
<text x="0" y="0" font-size="20.3" font-weight="bold" text-anchor="end" transform="translate(110,1666.11) scale(1.06,1)">0</text>
<line x1="111.8" y1="1658.8" x2="1075" y2="1658.8" stroke="#000" stroke-width="3" stroke-linecap="butt"/>
<line x1="179.3" y1="1658.8" x2="179.3" y2="1667.6" stroke="#000" stroke-width="3" stroke-linecap="butt"/>
<line x1="298.55" y1="1658.8" x2="298.55" y2="1667.6" stroke="#000" stroke-width="3" stroke-linecap="butt"/>
<line x1="417.8" y1="1658.8" x2="417.8" y2="1667.6" stroke="#000" stroke-width="3" stroke-linecap="butt"/>
<line x1="537.05" y1="1658.8" x2="537.05" y2="1667.6" stroke="#000" stroke-width="3" stroke-linecap="butt"/>
<line x1="656.3" y1="1658.8" x2="656.3" y2="1667.6" stroke="#000" stroke-width="3" stroke-linecap="butt"/>
<line x1="775.55" y1="1658.8" x2="775.55" y2="1667.6" stroke="#000" stroke-width="3" stroke-linecap="butt"/>
<line x1="894.8" y1="1658.8" x2="894.8" y2="1667.6" stroke="#000" stroke-width="3" stroke-linecap="butt"/>
<line x1="1014.05" y1="1658.8" x2="1014.05" y2="1667.6" stroke="#000" stroke-width="3" stroke-linecap="butt"/>
<text x="179.3" y="1692" font-size="25.53" font-weight="bold" text-anchor="middle">miR-126</text>
<text x="298.55" y="1692" font-size="25.53" font-weight="bold" text-anchor="middle">miR-148a</text>
<text x="417.8" y="1692" font-size="25.53" font-weight="bold" text-anchor="middle">miR-29c</text>
<text x="537.05" y="1692" font-size="25.53" font-weight="bold" text-anchor="middle">let-7b</text>
<text x="656.3" y="1692" font-size="25.53" font-weight="bold" text-anchor="middle">miR-30c</text>
<text x="775.55" y="1692" font-size="25.53" font-weight="bold" text-anchor="middle">miR-17</text>
<text x="894.8" y="1692" font-size="25.53" font-weight="bold" text-anchor="middle">miR-21</text>
<text x="1014.05" y="1692" font-size="25.53" font-weight="bold" text-anchor="middle">miR-223</text>
<text font-size="20.8" font-weight="bold" text-anchor="middle" transform="translate(46.9,1544) rotate(-90) scale(1,1.12)">Relative miRNA expression (%)</text>
<rect x="327.6" y="1424.1" width="39.4" height="20.7" fill="#000"/>
<text x="386.8" y="1442.2" font-size="25.34" text-anchor="start">Non-t</text>
<rect x="508" y="1425" width="36.2" height="17.2" fill="#fff" stroke="#000" stroke-width="2.8"/>
<text x="570.5" y="1442.2" font-size="25.34" text-anchor="start">IFX</text>
<rect x="674.1" y="1424.2" width="35.9" height="17.2" fill="#999999" stroke="#000" stroke-width="2.8"/>
<text x="734.1" y="1442.2" font-size="25.34" text-anchor="start">TCZ</text>
</g>
<g>
<line x1="1252.05" y1="1578.3" x2="1252.05" y2="1566.7" stroke="#000" stroke-width="3" stroke-linecap="butt"/>
<line x1="1246.3" y1="1566.7" x2="1257.8" y2="1566.7" stroke="#000" stroke-width="3" stroke-linecap="round"/>
<rect x="1239.8" y="1577.3" width="24.5" height="81.2" fill="#000"/>
<line x1="1287.4" y1="1563.4" x2="1287.4" y2="1537.7" stroke="#000" stroke-width="3" stroke-linecap="butt"/>
<line x1="1281.65" y1="1537.7" x2="1293.15" y2="1537.7" stroke="#000" stroke-width="3" stroke-linecap="round"/>
<rect x="1276.1" y="1563.8" width="22.3" height="93.3" fill="#fff" stroke="#000" stroke-width="2.8"/>
<line x1="1323" y1="1594.1" x2="1323" y2="1574.6" stroke="#000" stroke-width="3" stroke-linecap="butt"/>
<line x1="1317.25" y1="1574.6" x2="1328.75" y2="1574.6" stroke="#000" stroke-width="3" stroke-linecap="round"/>
<rect x="1311.8" y="1594.5" width="22.1" height="62.6" fill="#999999" stroke="#000" stroke-width="2.8"/>
<line x1="1363.15" y1="1578.3" x2="1363.15" y2="1567.9" stroke="#000" stroke-width="3" stroke-linecap="butt"/>
<line x1="1357.4" y1="1567.9" x2="1368.9" y2="1567.9" stroke="#000" stroke-width="3" stroke-linecap="round"/>
<rect x="1350.9" y="1577.3" width="24.5" height="81.2" fill="#000"/>
<line x1="1398.7" y1="1512.7" x2="1398.7" y2="1501" stroke="#000" stroke-width="3" stroke-linecap="butt"/>
<line x1="1392.95" y1="1501" x2="1404.45" y2="1501" stroke="#000" stroke-width="3" stroke-linecap="round"/>
<rect x="1387.4" y="1513.1" width="22.3" height="144" fill="#fff" stroke="#000" stroke-width="2.8"/>
<text x="1398.7" y="1495.1" font-size="18" text-anchor="middle">a</text>
<line x1="1434.1" y1="1581.6" x2="1434.1" y2="1554.2" stroke="#000" stroke-width="3" stroke-linecap="butt"/>
<line x1="1428.35" y1="1554.2" x2="1439.85" y2="1554.2" stroke="#000" stroke-width="3" stroke-linecap="round"/>
<rect x="1422.9" y="1582" width="22.1" height="75.1" fill="#999999" stroke="#000" stroke-width="2.8"/>
<line x1="1474.35" y1="1578.3" x2="1474.35" y2="1556.7" stroke="#000" stroke-width="3" stroke-linecap="butt"/>
<line x1="1468.6" y1="1556.7" x2="1480.1" y2="1556.7" stroke="#000" stroke-width="3" stroke-linecap="round"/>
<rect x="1462.1" y="1577.3" width="24.5" height="81.2" fill="#000"/>
<line x1="1509.8" y1="1563.9" x2="1509.8" y2="1531.7" stroke="#000" stroke-width="3" stroke-linecap="butt"/>
<line x1="1504.05" y1="1531.7" x2="1515.55" y2="1531.7" stroke="#000" stroke-width="3" stroke-linecap="round"/>
<rect x="1498.5" y="1564.3" width="22.3" height="92.8" fill="#fff" stroke="#000" stroke-width="2.8"/>
<line x1="1545.4" y1="1589.6" x2="1545.4" y2="1572.1" stroke="#000" stroke-width="3" stroke-linecap="butt"/>
<line x1="1539.65" y1="1572.1" x2="1551.15" y2="1572.1" stroke="#000" stroke-width="3" stroke-linecap="round"/>
<rect x="1534.2" y="1590" width="22.1" height="67.1" fill="#999999" stroke="#000" stroke-width="2.8"/>
<line x1="1586.15" y1="1578.3" x2="1586.15" y2="1549.2" stroke="#000" stroke-width="3" stroke-linecap="butt"/>
<line x1="1580.4" y1="1549.2" x2="1591.9" y2="1549.2" stroke="#000" stroke-width="3" stroke-linecap="round"/>
<rect x="1573.9" y="1577.3" width="24.5" height="81.2" fill="#000"/>
<line x1="1622.2" y1="1524.7" x2="1622.2" y2="1459.3" stroke="#000" stroke-width="3" stroke-linecap="butt"/>
<line x1="1616.45" y1="1459.3" x2="1627.95" y2="1459.3" stroke="#000" stroke-width="3" stroke-linecap="round"/>
<rect x="1610.9" y="1525.1" width="22.3" height="132" fill="#fff" stroke="#000" stroke-width="2.8"/>
<line x1="1657.5" y1="1615.8" x2="1657.5" y2="1581.4" stroke="#000" stroke-width="3" stroke-linecap="butt"/>
<line x1="1651.75" y1="1581.4" x2="1663.25" y2="1581.4" stroke="#000" stroke-width="3" stroke-linecap="round"/>
<rect x="1646.3" y="1616.2" width="22.1" height="40.9" fill="#999999" stroke="#000" stroke-width="2.8"/>
<line x1="1232.3" y1="1415.3" x2="1232.3" y2="1658.5" stroke="#000" stroke-width="3" stroke-linecap="butt"/>
<line x1="1223.7" y1="1416.8" x2="1232.3" y2="1416.8" stroke="#000" stroke-width="3" stroke-linecap="butt"/>
<text x="0" y="0" font-size="20.8" font-weight="bold" text-anchor="end" transform="translate(1221.9,1424.29) scale(1.09,1)">300</text>
<line x1="1223.7" y1="1496.8" x2="1232.3" y2="1496.8" stroke="#000" stroke-width="3" stroke-linecap="butt"/>
<text x="0" y="0" font-size="20.8" font-weight="bold" text-anchor="end" transform="translate(1221.9,1504.29) scale(1.09,1)">200</text>
<line x1="1223.7" y1="1576.9" x2="1232.3" y2="1576.9" stroke="#000" stroke-width="3" stroke-linecap="butt"/>
<text x="0" y="0" font-size="20.8" font-weight="bold" text-anchor="end" transform="translate(1221.9,1584.39) scale(1.09,1)">100</text>
<line x1="1223.7" y1="1657" x2="1232.3" y2="1657" stroke="#000" stroke-width="3" stroke-linecap="butt"/>
<text x="0" y="0" font-size="20.8" font-weight="bold" text-anchor="end" transform="translate(1221.9,1664.49) scale(1.09,1)">0</text>
<line x1="1223.7" y1="1657" x2="1677.5" y2="1657" stroke="#000" stroke-width="3" stroke-linecap="butt"/>
<line x1="1287" y1="1657" x2="1287" y2="1665.6" stroke="#000" stroke-width="3" stroke-linecap="butt"/>
<line x1="1398.2" y1="1657" x2="1398.2" y2="1665.6" stroke="#000" stroke-width="3" stroke-linecap="butt"/>
<line x1="1509.4" y1="1657" x2="1509.4" y2="1665.6" stroke="#000" stroke-width="3" stroke-linecap="butt"/>
<line x1="1620.6" y1="1657" x2="1620.6" y2="1665.6" stroke="#000" stroke-width="3" stroke-linecap="butt"/>
<text x="0" y="0" font-size="25.95" font-weight="bold" text-anchor="middle" transform="translate(1283.6,1692) scale(1.04,1)">DICER</text>
<text x="0" y="0" font-size="25.95" font-weight="bold" text-anchor="middle" transform="translate(1397,1692) scale(1.04,1)">AGO-1</text>
<text x="0" y="0" font-size="25.95" font-weight="bold" text-anchor="middle" transform="translate(1509.2,1692) scale(1.04,1)">AGO-2</text>
<text x="0" y="0" font-size="25.95" font-weight="bold" text-anchor="middle" transform="translate(1620.7,1692) scale(1.04,1)">XPO-5</text>
<text font-size="21.9" font-weight="bold" text-anchor="middle" transform="translate(1156.2,1536.5) rotate(-90) scale(1,1.08)">Relative mRNA expression (%)</text>
<rect x="1239.8" y="1384.4" width="41.5" height="21.7" fill="#000"/>
<text x="1301.5" y="1404.2" font-size="24.72" text-anchor="start">Non-t</text>
<rect x="1397.9" y="1387.5" width="37.8" height="18" fill="#fff" stroke="#000" stroke-width="2.8"/>
<text x="1456.5" y="1404.2" font-size="24.72" text-anchor="start">IFX</text>
<rect x="1542.4" y="1388.3" width="38.3" height="18.2" fill="#999999" stroke="#000" stroke-width="2.8"/>
<text x="1603.5" y="1404.2" font-size="24.72" text-anchor="start">TCZ</text>
</g>
<g>
<line x1="143.9" y1="2020.2" x2="143.9" y2="1958.5" stroke="#000" stroke-width="3" stroke-linecap="butt"/>
<line x1="136.9" y1="1958.5" x2="150.9" y2="1958.5" stroke="#000" stroke-width="3" stroke-linecap="round"/>
<rect x="128.6" y="2019.2" width="30.6" height="116.3" fill="#000"/>
<line x1="187.45" y1="2113.8" x2="187.45" y2="2097.8" stroke="#000" stroke-width="3" stroke-linecap="butt"/>
<line x1="180.45" y1="2097.8" x2="194.45" y2="2097.8" stroke="#000" stroke-width="3" stroke-linecap="round"/>
<rect x="173.1" y="2114.2" width="28.4" height="19.9" fill="#fff" stroke="#000" stroke-width="2.8"/>
<text x="187.45" y="2093.8" font-size="22.6" text-anchor="middle">a</text>
<line x1="231.6" y1="2054.9" x2="231.6" y2="2002.2" stroke="#000" stroke-width="3" stroke-linecap="butt"/>
<line x1="224.6" y1="2002.2" x2="238.6" y2="2002.2" stroke="#000" stroke-width="3" stroke-linecap="round"/>
<rect x="217.2" y="2055.3" width="28.5" height="78.8" fill="#999999" stroke="#000" stroke-width="2.8"/>
<line x1="281.5" y1="2020.2" x2="281.5" y2="1981.7" stroke="#000" stroke-width="3" stroke-linecap="butt"/>
<line x1="274.5" y1="1981.7" x2="288.5" y2="1981.7" stroke="#000" stroke-width="3" stroke-linecap="round"/>
<rect x="266.2" y="2019.2" width="30.6" height="116.3" fill="#000"/>
<line x1="325.15" y1="2089.9" x2="325.15" y2="2072.8" stroke="#000" stroke-width="3" stroke-linecap="butt"/>
<line x1="318.15" y1="2072.8" x2="332.15" y2="2072.8" stroke="#000" stroke-width="3" stroke-linecap="round"/>
<rect x="310.8" y="2090.3" width="28.4" height="43.8" fill="#fff" stroke="#000" stroke-width="2.8"/>
<text x="325.15" y="2068.1" font-size="22.6" text-anchor="middle">a</text>
<line x1="369.23" y1="2037.7" x2="369.23" y2="2000.4" stroke="#000" stroke-width="3" stroke-linecap="butt"/>
<line x1="362.23" y1="2000.4" x2="376.23" y2="2000.4" stroke="#000" stroke-width="3" stroke-linecap="round"/>
<rect x="354.83" y="2038.1" width="28.5" height="96" fill="#999999" stroke="#000" stroke-width="2.8"/>
<line x1="419.1" y1="2020.2" x2="419.1" y2="2006.2" stroke="#000" stroke-width="3" stroke-linecap="butt"/>
<line x1="412.1" y1="2006.2" x2="426.1" y2="2006.2" stroke="#000" stroke-width="3" stroke-linecap="round"/>
<rect x="403.8" y="2019.2" width="30.6" height="116.3" fill="#000"/>
<line x1="462.85" y1="2117.6" x2="462.85" y2="2106.5" stroke="#000" stroke-width="3" stroke-linecap="butt"/>
<line x1="455.85" y1="2106.5" x2="469.85" y2="2106.5" stroke="#000" stroke-width="3" stroke-linecap="round"/>
<rect x="448.5" y="2118" width="28.4" height="16.1" fill="#fff" stroke="#000" stroke-width="2.8"/>
<text x="462.85" y="2102.3" font-size="22.6" text-anchor="middle">a</text>
<line x1="506.86" y1="2062.7" x2="506.86" y2="2055.9" stroke="#000" stroke-width="3" stroke-linecap="butt"/>
<line x1="499.86" y1="2055.9" x2="513.86" y2="2055.9" stroke="#000" stroke-width="3" stroke-linecap="round"/>
<rect x="492.46" y="2063.1" width="28.5" height="71" fill="#999999" stroke="#000" stroke-width="2.8"/>
<text x="506.86" y="2050.6" font-size="22.6" text-anchor="middle">a</text>
<line x1="556.7" y1="2020.2" x2="556.7" y2="1995.4" stroke="#000" stroke-width="3" stroke-linecap="butt"/>
<line x1="549.7" y1="1995.4" x2="563.7" y2="1995.4" stroke="#000" stroke-width="3" stroke-linecap="round"/>
<rect x="541.4" y="2019.2" width="30.6" height="116.3" fill="#000"/>
<line x1="600.55" y1="2083.1" x2="600.55" y2="2066.4" stroke="#000" stroke-width="3" stroke-linecap="butt"/>
<line x1="593.55" y1="2066.4" x2="607.55" y2="2066.4" stroke="#000" stroke-width="3" stroke-linecap="round"/>
<rect x="586.2" y="2083.5" width="28.4" height="50.6" fill="#fff" stroke="#000" stroke-width="2.8"/>
<text x="600.55" y="2061.9" font-size="22.6" text-anchor="middle">a</text>
<line x1="644.49" y1="2049.9" x2="644.49" y2="2029.7" stroke="#000" stroke-width="3" stroke-linecap="butt"/>
<line x1="637.49" y1="2029.7" x2="651.49" y2="2029.7" stroke="#000" stroke-width="3" stroke-linecap="round"/>
<rect x="630.09" y="2050.3" width="28.5" height="83.8" fill="#999999" stroke="#000" stroke-width="2.8"/>
<text x="644.49" y="2023.9" font-size="22.6" text-anchor="middle">a</text>
<line x1="694.3" y1="2020.2" x2="694.3" y2="1998.4" stroke="#000" stroke-width="3" stroke-linecap="butt"/>
<line x1="687.3" y1="1998.4" x2="701.3" y2="1998.4" stroke="#000" stroke-width="3" stroke-linecap="round"/>
<rect x="679" y="2019.2" width="30.6" height="116.3" fill="#000"/>
<line x1="738.25" y1="2033.7" x2="738.25" y2="2012.2" stroke="#000" stroke-width="3" stroke-linecap="butt"/>
<line x1="731.25" y1="2012.2" x2="745.25" y2="2012.2" stroke="#000" stroke-width="3" stroke-linecap="round"/>
<rect x="723.9" y="2034.1" width="28.4" height="100" fill="#fff" stroke="#000" stroke-width="2.8"/>
<line x1="782.12" y1="2078.6" x2="782.12" y2="2060.4" stroke="#000" stroke-width="3" stroke-linecap="butt"/>
<line x1="775.12" y1="2060.4" x2="789.12" y2="2060.4" stroke="#000" stroke-width="3" stroke-linecap="round"/>
<rect x="767.72" y="2079" width="28.5" height="55.1" fill="#999999" stroke="#000" stroke-width="2.8"/>
<text x="782.12" y="2054.9" font-size="22.6" text-anchor="middle">a</text>
<line x1="831.9" y1="2020.2" x2="831.9" y2="2001.7" stroke="#000" stroke-width="3" stroke-linecap="butt"/>
<line x1="824.9" y1="2001.7" x2="838.9" y2="2001.7" stroke="#000" stroke-width="3" stroke-linecap="round"/>
<rect x="816.6" y="2019.2" width="30.6" height="116.3" fill="#000"/>
<line x1="875.95" y1="2076.1" x2="875.95" y2="2058.9" stroke="#000" stroke-width="3" stroke-linecap="butt"/>
<line x1="868.95" y1="2058.9" x2="882.95" y2="2058.9" stroke="#000" stroke-width="3" stroke-linecap="round"/>
<rect x="861.6" y="2076.5" width="28.4" height="57.6" fill="#fff" stroke="#000" stroke-width="2.8"/>
<text x="875.95" y="2054.9" font-size="22.6" text-anchor="middle">a</text>
<line x1="919.75" y1="2074.9" x2="919.75" y2="2065.1" stroke="#000" stroke-width="3" stroke-linecap="butt"/>
<line x1="912.75" y1="2065.1" x2="926.75" y2="2065.1" stroke="#000" stroke-width="3" stroke-linecap="round"/>
<rect x="905.35" y="2075.3" width="28.5" height="58.8" fill="#999999" stroke="#000" stroke-width="2.8"/>
<text x="919.75" y="2060.6" font-size="22.6" text-anchor="middle">a</text>
<line x1="969.5" y1="2020.2" x2="969.5" y2="1980.5" stroke="#000" stroke-width="3" stroke-linecap="butt"/>
<line x1="962.5" y1="1980.5" x2="976.5" y2="1980.5" stroke="#000" stroke-width="3" stroke-linecap="round"/>
<rect x="954.2" y="2019.2" width="30.6" height="116.3" fill="#000"/>
<line x1="1013.65" y1="2066.9" x2="1013.65" y2="2046.6" stroke="#000" stroke-width="3" stroke-linecap="butt"/>
<line x1="1006.65" y1="2046.6" x2="1020.65" y2="2046.6" stroke="#000" stroke-width="3" stroke-linecap="round"/>
<rect x="999.3" y="2067.3" width="28.4" height="66.8" fill="#fff" stroke="#000" stroke-width="2.8"/>
<line x1="1057.38" y1="2046.2" x2="1057.38" y2="2006.7" stroke="#000" stroke-width="3" stroke-linecap="butt"/>
<line x1="1050.38" y1="2006.7" x2="1064.38" y2="2006.7" stroke="#000" stroke-width="3" stroke-linecap="round"/>
<rect x="1042.98" y="2046.6" width="28.5" height="87.5" fill="#999999" stroke="#000" stroke-width="2.8"/>
<line x1="119.9" y1="1901.3" x2="119.9" y2="2135.5" stroke="#000" stroke-width="3" stroke-linecap="butt"/>
<line x1="111.1" y1="1902.8" x2="119.9" y2="1902.8" stroke="#000" stroke-width="3" stroke-linecap="butt"/>
<text x="0" y="0" font-size="20.2" font-weight="bold" text-anchor="end" transform="translate(109.3,1910.07) scale(1.1,1)">200</text>
<line x1="111.1" y1="1960.6" x2="119.9" y2="1960.6" stroke="#000" stroke-width="3" stroke-linecap="butt"/>
<text x="0" y="0" font-size="20.2" font-weight="bold" text-anchor="end" transform="translate(109.3,1967.87) scale(1.1,1)">150</text>
<line x1="111.1" y1="2018.8" x2="119.9" y2="2018.8" stroke="#000" stroke-width="3" stroke-linecap="butt"/>
<text x="0" y="0" font-size="20.2" font-weight="bold" text-anchor="end" transform="translate(109.3,2026.07) scale(1.1,1)">100</text>
<line x1="111.1" y1="2076.4" x2="119.9" y2="2076.4" stroke="#000" stroke-width="3" stroke-linecap="butt"/>
<text x="0" y="0" font-size="20.2" font-weight="bold" text-anchor="end" transform="translate(109.3,2083.67) scale(1.1,1)">50</text>
<line x1="111.1" y1="2134" x2="119.9" y2="2134" stroke="#000" stroke-width="3" stroke-linecap="butt"/>
<text x="0" y="0" font-size="20.2" font-weight="bold" text-anchor="end" transform="translate(109.3,2141.27) scale(1.1,1)">0</text>
<line x1="111.1" y1="2134" x2="1084.6" y2="2134" stroke="#000" stroke-width="3" stroke-linecap="butt"/>
<line x1="187.8" y1="2134" x2="187.8" y2="2142.8" stroke="#000" stroke-width="3" stroke-linecap="butt"/>
<line x1="325.3" y1="2134" x2="325.3" y2="2142.8" stroke="#000" stroke-width="3" stroke-linecap="butt"/>
<line x1="462.8" y1="2134" x2="462.8" y2="2142.8" stroke="#000" stroke-width="3" stroke-linecap="butt"/>
<line x1="600.3" y1="2134" x2="600.3" y2="2142.8" stroke="#000" stroke-width="3" stroke-linecap="butt"/>
<line x1="737.8" y1="2134" x2="737.8" y2="2142.8" stroke="#000" stroke-width="3" stroke-linecap="butt"/>
<line x1="875.3" y1="2134" x2="875.3" y2="2142.8" stroke="#000" stroke-width="3" stroke-linecap="butt"/>
<line x1="1012.8" y1="2134" x2="1012.8" y2="2142.8" stroke="#000" stroke-width="3" stroke-linecap="butt"/>
<text x="0" y="0" font-size="25.32" font-weight="bold" text-anchor="middle" transform="translate(184.5,2168.2) scale(1.01,1)">VEGF-A</text>
<text x="0" y="0" font-size="25.32" font-weight="bold" text-anchor="middle" transform="translate(324.8,2168.2) scale(1.01,1)">TNF-α</text>
<text x="0" y="0" font-size="25.32" font-weight="bold" text-anchor="middle" transform="translate(462.4,2168.2) scale(1.01,1)">IL-1β</text>
<text x="0" y="0" font-size="25.32" font-weight="bold" text-anchor="middle" transform="translate(600,2168.2) scale(1.01,1)">IL-8</text>
<text x="0" y="0" font-size="25.32" font-weight="bold" text-anchor="middle" transform="translate(738.5,2168.2) scale(1.01,1)">IL-6R</text>
<text x="0" y="0" font-size="25.32" font-weight="bold" text-anchor="middle" transform="translate(875.5,2168.2) scale(1.01,1)">STAT-3</text>
<text x="0" y="0" font-size="25.32" font-weight="bold" text-anchor="middle" transform="translate(1013,2168.2) scale(1.01,1)">AKT</text>
<text font-size="21" font-weight="bold" text-anchor="middle" transform="translate(44.9,2019) rotate(-90) scale(1,1.09)">Relative mRNA expression (%)</text>
<rect x="350.8" y="1897.8" width="40.5" height="20.7" fill="#000"/>
<text x="410.5" y="1915.9" font-size="25.54" text-anchor="start">Non-t</text>
<rect x="531.2" y="1898.7" width="37.2" height="17.2" fill="#fff" stroke="#000" stroke-width="2.8"/>
<text x="588.5" y="1915.9" font-size="25.54" text-anchor="start">IFX</text>
<rect x="691" y="1897" width="37.9" height="17.6" fill="#999999" stroke="#000" stroke-width="2.8"/>
<text x="750.1" y="1914.1" font-size="25.54" text-anchor="start">TCZ</text>
</g>
<g>
<line x1="1257.05" y1="1960.7" x2="1257.05" y2="1944.3" stroke="#000" stroke-width="3" stroke-linecap="butt"/>
<line x1="1248.4" y1="1944.3" x2="1265.7" y2="1944.3" stroke="#000" stroke-width="3" stroke-linecap="round"/>
<rect x="1238.6" y="1959.7" width="36.9" height="177.6" fill="#000"/>
<line x1="1300.75" y1="1981.9" x2="1300.75" y2="1968.5" stroke="#000" stroke-width="3" stroke-linecap="butt"/>
<line x1="1292.1" y1="1968.5" x2="1309.4" y2="1968.5" stroke="#000" stroke-width="3" stroke-linecap="round"/>
<rect x="1283.1" y="1982.3" width="35" height="153.6" fill="#fff" stroke="#000" stroke-width="2.8"/>
<text x="1300.75" y="1963.9" font-size="19" text-anchor="middle">a</text>
<line x1="1344.8" y1="2006.8" x2="1344.8" y2="1997.7" stroke="#000" stroke-width="3" stroke-linecap="butt"/>
<line x1="1336.15" y1="1997.7" x2="1353.45" y2="1997.7" stroke="#000" stroke-width="3" stroke-linecap="round"/>
<rect x="1327.5" y="2007.2" width="34.3" height="128.7" fill="#999999" stroke="#000" stroke-width="2.8"/>
<text x="1344.8" y="1992.6" font-size="19" text-anchor="middle">a</text>
<line x1="1411.2" y1="1973.7" x2="1411.2" y2="1958.5" stroke="#000" stroke-width="3" stroke-linecap="butt"/>
<line x1="1402.55" y1="1958.5" x2="1419.85" y2="1958.5" stroke="#000" stroke-width="3" stroke-linecap="round"/>
<rect x="1392.7" y="1972.7" width="37" height="164.6" fill="#000"/>
<line x1="1455.35" y1="2049.5" x2="1455.35" y2="2028.4" stroke="#000" stroke-width="3" stroke-linecap="butt"/>
<line x1="1446.7" y1="2028.4" x2="1464" y2="2028.4" stroke="#000" stroke-width="3" stroke-linecap="round"/>
<rect x="1437.6" y="2049.9" width="35.2" height="86" fill="#fff" stroke="#000" stroke-width="2.8"/>
<text x="1455.35" y="2024.3" font-size="19" text-anchor="middle">a</text>
<line x1="1499.15" y1="2008.1" x2="1499.15" y2="2003.4" stroke="#000" stroke-width="3" stroke-linecap="butt"/>
<line x1="1490.5" y1="2003.4" x2="1507.8" y2="2003.4" stroke="#000" stroke-width="3" stroke-linecap="round"/>
<rect x="1481.7" y="2008.5" width="34.6" height="127.4" fill="#999999" stroke="#000" stroke-width="2.8"/>
<text x="1499.15" y="1998.8" font-size="19" text-anchor="middle">a</text>
<line x1="1566.15" y1="2011.9" x2="1566.15" y2="1990.2" stroke="#000" stroke-width="3" stroke-linecap="butt"/>
<line x1="1557.5" y1="1990.2" x2="1574.8" y2="1990.2" stroke="#000" stroke-width="3" stroke-linecap="round"/>
<rect x="1547.2" y="2010.9" width="37.9" height="126.4" fill="#000"/>
<line x1="1610.45" y1="2062.5" x2="1610.45" y2="2052.9" stroke="#000" stroke-width="3" stroke-linecap="butt"/>
<line x1="1601.8" y1="2052.9" x2="1619.1" y2="2052.9" stroke="#000" stroke-width="3" stroke-linecap="round"/>
<rect x="1592.9" y="2062.9" width="34.8" height="73" fill="#fff" stroke="#000" stroke-width="2.8"/>
<text x="1610.45" y="2048.3" font-size="19" text-anchor="middle">a</text>
<line x1="1654.4" y1="2060.8" x2="1654.4" y2="2051.4" stroke="#000" stroke-width="3" stroke-linecap="butt"/>
<line x1="1645.75" y1="2051.4" x2="1663.05" y2="2051.4" stroke="#000" stroke-width="3" stroke-linecap="round"/>
<rect x="1637.1" y="2061.2" width="34.3" height="74.7" fill="#999999" stroke="#000" stroke-width="2.8"/>
<text x="1654.4" y="2046.8" font-size="19" text-anchor="middle">a</text>
<line x1="1224.1" y1="1893.3" x2="1224.1" y2="2137.3" stroke="#000" stroke-width="3" stroke-linecap="butt"/>
<line x1="1216.5" y1="1894.8" x2="1224.1" y2="1894.8" stroke="#000" stroke-width="3" stroke-linecap="butt"/>
<text x="1214.7" y="1901.17" font-size="17.7" font-weight="bold" text-anchor="end">250</text>
<line x1="1216.5" y1="1943" x2="1224.1" y2="1943" stroke="#000" stroke-width="3" stroke-linecap="butt"/>
<text x="1214.7" y="1949.37" font-size="17.7" font-weight="bold" text-anchor="end">200</text>
<line x1="1216.5" y1="1991.2" x2="1224.1" y2="1991.2" stroke="#000" stroke-width="3" stroke-linecap="butt"/>
<text x="1214.7" y="1997.57" font-size="17.7" font-weight="bold" text-anchor="end">150</text>
<line x1="1216.5" y1="2039.4" x2="1224.1" y2="2039.4" stroke="#000" stroke-width="3" stroke-linecap="butt"/>
<text x="1214.7" y="2045.77" font-size="17.7" font-weight="bold" text-anchor="end">100</text>
<line x1="1216.5" y1="2087.6" x2="1224.1" y2="2087.6" stroke="#000" stroke-width="3" stroke-linecap="butt"/>
<text x="1214.7" y="2093.97" font-size="17.7" font-weight="bold" text-anchor="end">50</text>
<line x1="1216.5" y1="2135.8" x2="1224.1" y2="2135.8" stroke="#000" stroke-width="3" stroke-linecap="butt"/>
<text x="1214.7" y="2142.17" font-size="17.7" font-weight="bold" text-anchor="end">0</text>
<line x1="1216.5" y1="2135.8" x2="1687.5" y2="2135.8" stroke="#000" stroke-width="3" stroke-linecap="butt"/>
<line x1="1300.5" y1="2135.8" x2="1300.5" y2="2143.4" stroke="#000" stroke-width="3" stroke-linecap="butt"/>
<line x1="1455" y1="2135.8" x2="1455" y2="2143.4" stroke="#000" stroke-width="3" stroke-linecap="butt"/>
<line x1="1610.6" y1="2135.8" x2="1610.6" y2="2143.4" stroke="#000" stroke-width="3" stroke-linecap="butt"/>
<text x="0" y="0" font-size="22.7" font-weight="bold" text-anchor="middle" transform="translate(1300.5,2164.6) scale(0.94,1)">TNF-α</text>
<text x="0" y="0" font-size="22.7" font-weight="bold" text-anchor="middle" transform="translate(1455,2164.6) scale(0.94,1)">IL-8</text>
<text x="0" y="0" font-size="22.7" font-weight="bold" text-anchor="middle" transform="translate(1610.6,2164.6) scale(0.94,1)">IL-1β</text>
<text font-size="22.6" font-weight="bold" text-anchor="middle" transform="translate(1137.3,2015.2) rotate(-90) scale(1,1)">Protein supernatant</text>
<text font-size="22.4" font-weight="bold" text-anchor="middle" transform="translate(1164.5,2015.5) rotate(-90) scale(1,1)">levels (pg/mL)</text>
<rect x="1267.3" y="1889.3" width="34.4" height="17.5" fill="#000"/>
<text x="1318.5" y="1904.2" font-size="21.42" text-anchor="start">Non-t</text>
<rect x="1415.1" y="1892" width="31.2" height="13.4" fill="#fff" stroke="#000" stroke-width="2.8"/>
<text x="1463.5" y="1904.2" font-size="21.42" text-anchor="start">IFX</text>
<rect x="1537.8" y="1891.2" width="32.2" height="14.7" fill="#999999" stroke="#000" stroke-width="2.8"/>
<text x="1589.5" y="1904.2" font-size="21.42" text-anchor="start">TCZ</text>
</g>
<rect x="676" y="231.2" width="124" height="11.1" fill="#fefefe"/>
<path d="M156,44 L163,15 L170,15 L176,44 L170.2,44 L169,36.8 L163.2,36.8 L162,44 Z M166.5,21.5 L164.1,32.8 L168.4,32.8 Z" fill="#04669a" fill-rule="evenodd"/>
<path d="M19.3,409 H29.5 Q34,409.3 34,414 V418 Q34,421.4 31,422.3 Q35,423.4 35,428 V432 Q35,437.6 29.8,438 H19.3 Z M24.2,413 H27 Q29,413 29,415.2 V418.8 Q29,421 27,421 H24.2 Z M24.2,425 H27.6 Q30,425 30,427.6 V431.4 Q30,434 27.6,434 H24.2 Z" fill="#04669a" fill-rule="evenodd"/>
<path d="M14,1340 H26.5 Q32,1340.4 32,1347.5 V1361.5 Q32,1368.6 26.5,1369 H14 Z M19,1344 H24 Q27,1344.3 27,1348.5 V1360.5 Q27,1364.7 24,1365 H19 Z" fill="#04669a" fill-rule="evenodd"/>
<path d="M16,1767 H31 V1771 H21 V1779 H30 V1783 H21 V1792 H31 V1796 H16 Z" fill="#04669a" fill-rule="evenodd"/>
<path d="M1110,1767 H1125 V1771 H1115 V1779 H1124 V1783 H1115 V1796 H1110 Z" fill="#04669a" fill-rule="evenodd"/>
<path d="M25.5,885 V883 Q25.5,878.5 20.5,878.5 H18.5 Q13.5,878.5 13.5,883.5 V897.5 Q13.5,902.5 18.5,902.5 H20.5 Q25.5,902.5 25.5,898 V895" fill="none" stroke="#04669a" stroke-width="5"/>
</g>
</svg>
</body></html>
